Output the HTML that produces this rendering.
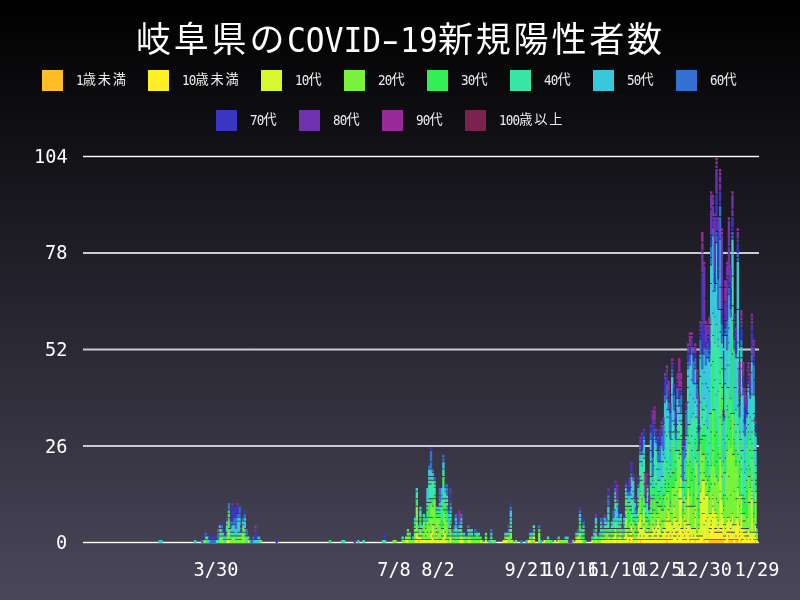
<!DOCTYPE html>
<html><head><meta charset="utf-8">
<style>
html,body{margin:0;padding:0;}
body{width:800px;height:600px;overflow:hidden;position:relative;
 background:linear-gradient(to bottom,#000000 0%,#4a475b 100%);
 font-family:"Noto Sans Mono CJK JP","DejaVu Sans Mono","Noto Sans CJK JP",monospace;color:#fff;}
.t{position:absolute;white-space:nowrap;will-change:transform;}
.ttl{line-height:50px;}
.tc{font-family:"Noto Sans CJK JP",sans-serif;font-size:35px;}
.tl{font-family:"DejaVu Sans Mono",monospace;font-size:31.3px;}
.hy{display:inline-block;transform:scaleX(1.6);}
.lg{position:absolute;line-height:21px;white-space:nowrap;color:#eeeeee;will-change:transform}
.lg i{position:absolute;left:0;top:0;width:20.7px;height:21px;}
.lg span{position:absolute;left:34px;top:-2px;font-family:"Noto Sans CJK JP",sans-serif;font-size:13.2px;letter-spacing:1.8px;}
.lg b{font-weight:normal;font-family:"DejaVu Sans Mono",monospace;font-size:12.6px;letter-spacing:-0.8px;display:inline-block;transform:scaleY(1.06);transform-origin:50% 85%;position:relative;top:1.2px;}
.yl{position:absolute;right:732.5px;font-family:"DejaVu Sans Mono",monospace;font-size:18.6px;line-height:24px;text-align:right;transform:scaleY(1.07);will-change:transform;}
.xl{position:absolute;top:557.5px;font-family:"DejaVu Sans Mono",monospace;font-size:18.6px;line-height:24px;width:80px;text-align:center;transform:scaleY(1.07);will-change:transform;}
</style></head><body>
<div class="t ttl" style="left:136px;top:11.5px"><span class="tc" style="letter-spacing:2.8px">岐阜県の</span></div>
<div class="t ttl" style="left:287.3px;top:13px;transform:scaleY(1.08);transform-origin:0 0"><span class="tl">COVID<span class="hy">-</span>19</span></div>
<div class="t ttl" style="left:438.2px;top:11.5px"><span class="tc" style="letter-spacing:2.8px">新規陽性者数</span></div>

<div class="lg" style="left:41.7px;top:70px"><i style="background:#ffbe25"></i><span><b>1</b>歳未満</span></div>
<div class="lg" style="left:147.5px;top:70px"><i style="background:#fff025"></i><span><b>10</b>歳未満</span></div>
<div class="lg" style="left:260.5px;top:70px"><i style="background:#d8f72c"></i><span><b>10</b>代</span></div>
<div class="lg" style="left:343.7px;top:70px"><i style="background:#78f23a"></i><span><b>20</b>代</span></div>
<div class="lg" style="left:426.8px;top:70px"><i style="background:#33ee55"></i><span><b>30</b>代</span></div>
<div class="lg" style="left:509.6px;top:70px"><i style="background:#3ae6a6"></i><span><b>40</b>代</span></div>
<div class="lg" style="left:592.7px;top:70px"><i style="background:#38c8dc"></i><span><b>50</b>代</span></div>
<div class="lg" style="left:675.7px;top:70px"><i style="background:#3372d2"></i><span><b>60</b>代</span></div>
<div class="lg" style="left:215.7px;top:110px"><i style="background:#3a35c2"></i><span><b>70</b>代</span></div>
<div class="lg" style="left:298.7px;top:110px"><i style="background:#6f31ad"></i><span><b>80</b>代</span></div>
<div class="lg" style="left:381.7px;top:110px"><i style="background:#982b98"></i><span><b>90</b>代</span></div>
<div class="lg" style="left:465px;top:110px"><i style="background:#7a2350"></i><span><b>100</b>歳以上</span></div>

<svg style="position:absolute;left:0;top:0" width="800" height="600">
<g>
<rect x="83" y="155.8" width="676" height="1.4" fill="#fff"/>
<rect x="83" y="252" width="676" height="2" fill="#cccbd0"/>
<rect x="83" y="348.5" width="676" height="2" fill="#cccbd0"/>
<rect x="83" y="445" width="676" height="2" fill="#cccbd0"/>
<rect x="83" y="541.8" width="676" height="1.4" fill="#fff"/>
</g>
<g id="bars">
<path fill="#ffbe25" d="M417.42 540.09h2.37v2.81h-2.37zM532.68 540.09h2.37v2.81h-2.37zM628.44 540.09h2.37v2.81h-2.37zM631.99 540.09h2.37v2.81h-2.37zM639.08 540.09h2.37v2.81h-2.37zM665.68 540.09h2.37v2.81h-2.37zM688.74 540.09h2.37v2.81h-2.37zM694.06 540.09h2.37v2.81h-2.37zM702.92 540.09h2.37v2.81h-2.37zM708.24 540.09h2.37v2.81h-2.37zM710.01 540.09h2.37v2.81h-2.37zM711.79 540.09h2.37v2.81h-2.37zM713.56 540.09h2.37v2.81h-2.37zM715.33 540.09h2.37v2.81h-2.37zM717.11 540.09h2.37v2.81h-2.37zM718.88 540.09h2.37v2.81h-2.37zM720.65 540.09h2.37v2.81h-2.37zM722.43 540.09h2.37v2.81h-2.37zM727.75 540.09h2.37v2.81h-2.37zM729.52 540.09h2.37v2.81h-2.37zM731.29 540.09h2.37v2.81h-2.37zM734.84 540.09h2.37v2.81h-2.37zM736.61 540.09h2.37v2.81h-2.37zM740.16 540.09h2.37v2.81h-2.37zM754.35 540.09h2.37v2.81h-2.37z"/>
<path fill="#fff025" d="M225.90 540.09h2.37v2.81h-2.37zM227.68 540.09h2.37v2.81h-2.37zM247.18 540.09h2.37v2.81h-2.37zM405.01 540.09h2.37v2.81h-2.37zM422.74 540.09h2.37v2.81h-2.37zM429.83 540.09h2.37v2.81h-2.37zM435.15 540.09h2.37v2.81h-2.37zM461.75 540.09h2.37v2.81h-2.37zM504.31 540.09h2.37v2.81h-2.37zM506.09 540.09h2.37v2.81h-2.37zM532.68 536.38h2.37v2.81h-2.37zM577.02 540.09h2.37v2.81h-2.37zM601.84 540.09h2.37v2.81h-2.37zM607.16 540.09h2.37v2.81h-2.37zM612.48 540.09h2.37v2.81h-2.37zM614.26 540.09h2.37v2.81h-2.37zM619.58 540.09h2.37v2.81h-2.37zM624.90 540.09h2.37v2.81h-2.37zM624.90 532.66h2.37v6.52h-2.37zM628.44 536.38h2.37v2.81h-2.37zM630.22 536.38h2.37v6.52h-2.37zM637.31 540.09h2.37v2.81h-2.37zM639.08 536.38h2.37v2.81h-2.37zM640.86 540.09h2.37v2.81h-2.37zM642.63 540.09h2.37v2.81h-2.37zM642.63 536.38h2.37v2.81h-2.37zM644.40 540.09h2.37v2.81h-2.37zM646.18 540.09h2.37v2.81h-2.37zM647.95 540.09h2.37v2.81h-2.37zM649.72 540.09h2.37v2.81h-2.37zM651.50 540.09h2.37v2.81h-2.37zM653.27 540.09h2.37v2.81h-2.37zM655.04 540.09h2.37v2.81h-2.37zM655.04 536.38h2.37v2.81h-2.37zM656.82 540.09h2.37v2.81h-2.37zM658.59 540.09h2.37v2.81h-2.37zM660.36 540.09h2.37v2.81h-2.37zM662.14 540.09h2.37v2.81h-2.37zM663.91 540.09h2.37v2.81h-2.37zM665.68 536.38h2.37v2.81h-2.37zM665.68 532.66h2.37v2.81h-2.37zM667.46 540.09h2.37v2.81h-2.37zM667.46 532.66h2.37v6.52h-2.37zM669.23 540.09h2.37v2.81h-2.37zM669.23 536.38h2.37v2.81h-2.37zM671.00 540.09h2.37v2.81h-2.37zM672.78 536.38h2.37v6.52h-2.37zM672.78 528.95h2.37v6.52h-2.37zM674.55 536.38h2.37v6.52h-2.37zM674.55 532.66h2.37v2.81h-2.37zM676.32 540.09h2.37v2.81h-2.37zM678.10 536.38h2.37v6.52h-2.37zM678.10 525.24h2.37v10.24h-2.37zM679.87 528.95h2.37v13.95h-2.37zM679.87 499.26h2.37v28.80h-2.37zM681.64 540.09h2.37v2.81h-2.37zM683.42 540.09h2.37v2.81h-2.37zM683.42 536.38h2.37v2.81h-2.37zM685.19 540.09h2.37v2.81h-2.37zM685.19 528.95h2.37v10.24h-2.37zM686.96 532.66h2.37v10.24h-2.37zM686.96 525.24h2.37v6.52h-2.37zM688.74 536.38h2.37v2.81h-2.37zM690.51 540.09h2.37v2.81h-2.37zM692.28 540.09h2.37v2.81h-2.37zM694.06 528.95h2.37v10.24h-2.37zM694.06 517.82h2.37v10.24h-2.37zM695.83 540.09h2.37v2.81h-2.37zM697.60 540.09h2.37v2.81h-2.37zM699.38 536.38h2.37v6.52h-2.37zM701.15 536.38h2.37v6.52h-2.37zM702.92 525.24h2.37v13.95h-2.37zM702.92 514.10h2.37v10.24h-2.37zM704.70 540.09h2.37v2.81h-2.37zM706.47 540.09h2.37v2.81h-2.37zM708.24 532.66h2.37v6.52h-2.37zM710.01 528.95h2.37v10.24h-2.37zM710.01 525.24h2.37v2.81h-2.37zM711.79 517.82h2.37v21.37h-2.37zM711.79 506.68h2.37v10.24h-2.37zM713.56 532.66h2.37v6.52h-2.37zM713.56 528.95h2.37v2.81h-2.37zM715.33 532.66h2.37v6.52h-2.37zM715.33 528.95h2.37v2.81h-2.37zM717.11 532.66h2.37v6.52h-2.37zM718.88 532.66h2.37v6.52h-2.37zM718.88 528.95h2.37v2.81h-2.37zM720.65 532.66h2.37v6.52h-2.37zM720.65 528.95h2.37v2.81h-2.37zM722.43 536.38h2.37v2.81h-2.37zM722.43 525.24h2.37v10.24h-2.37zM724.20 540.09h2.37v2.81h-2.37zM724.20 536.38h2.37v2.81h-2.37zM725.97 532.66h2.37v10.24h-2.37zM727.75 536.38h2.37v2.81h-2.37zM727.75 532.66h2.37v2.81h-2.37zM729.52 532.66h2.37v6.52h-2.37zM731.29 532.66h2.37v6.52h-2.37zM733.07 540.09h2.37v2.81h-2.37zM734.84 536.38h2.37v2.81h-2.37zM734.84 525.24h2.37v10.24h-2.37zM736.61 517.82h2.37v21.37h-2.37zM738.39 536.38h2.37v6.52h-2.37zM738.39 532.66h2.37v2.81h-2.37zM740.16 528.95h2.37v10.24h-2.37zM740.16 514.10h2.37v13.95h-2.37zM741.93 540.09h2.37v2.81h-2.37zM743.71 536.38h2.37v6.52h-2.37zM745.48 540.09h2.37v2.81h-2.37zM747.25 536.38h2.37v6.52h-2.37zM749.03 540.09h2.37v2.81h-2.37zM750.80 532.66h2.37v10.24h-2.37zM750.80 499.26h2.37v32.51h-2.37zM752.57 540.09h2.37v2.81h-2.37zM754.35 536.38h2.37v2.81h-2.37zM756.12 540.09h1.77v2.81h-1.77z"/>
<path fill="#d8f72c" d="M406.78 540.09h2.37v2.81h-2.37zM413.87 540.09h2.37v2.81h-2.37zM415.65 540.09h2.37v2.81h-2.37zM415.65 532.66h2.37v6.52h-2.37zM417.42 536.38h2.37v2.81h-2.37zM419.19 540.09h2.37v2.81h-2.37zM419.19 536.38h2.37v2.81h-2.37zM420.97 540.09h2.37v2.81h-2.37zM424.51 540.09h2.37v2.81h-2.37zM426.29 540.09h2.37v2.81h-2.37zM428.06 540.09h2.37v2.81h-2.37zM429.83 532.66h2.37v6.52h-2.37zM431.61 536.38h2.37v6.52h-2.37zM431.61 525.24h2.37v10.24h-2.37zM433.38 540.09h2.37v2.81h-2.37zM435.15 536.38h2.37v2.81h-2.37zM435.15 532.66h2.37v2.81h-2.37zM436.93 540.09h2.37v2.81h-2.37zM438.70 540.09h2.37v2.81h-2.37zM440.47 540.09h2.37v2.81h-2.37zM442.25 536.38h2.37v6.52h-2.37zM442.25 528.95h2.37v6.52h-2.37zM444.02 540.09h2.37v2.81h-2.37zM444.02 532.66h2.37v6.52h-2.37zM445.79 540.09h2.37v2.81h-2.37zM449.34 536.38h2.37v6.52h-2.37zM458.21 540.09h2.37v2.81h-2.37zM459.98 540.09h2.37v2.81h-2.37zM459.98 536.38h2.37v2.81h-2.37zM467.07 540.09h2.37v2.81h-2.37zM468.85 540.09h2.37v2.81h-2.37zM479.49 540.09h2.37v2.81h-2.37zM484.81 540.09h2.37v2.81h-2.37zM502.54 540.09h2.37v2.81h-2.37zM509.63 540.09h2.37v2.81h-2.37zM527.37 540.09h2.37v2.81h-2.37zM529.14 540.09h2.37v2.81h-2.37zM543.32 540.09h2.37v2.81h-2.37zM553.96 540.09h2.37v2.81h-2.37zM557.51 540.09h2.37v2.81h-2.37zM575.24 540.09h2.37v2.81h-2.37zM577.02 536.38h2.37v2.81h-2.37zM578.79 540.09h2.37v2.81h-2.37zM580.56 540.09h2.37v2.81h-2.37zM591.20 540.09h2.37v2.81h-2.37zM594.75 540.09h2.37v2.81h-2.37zM600.07 540.09h2.37v2.81h-2.37zM603.62 540.09h2.37v2.81h-2.37zM605.39 540.09h2.37v2.81h-2.37zM607.16 536.38h2.37v2.81h-2.37zM608.94 540.09h2.37v2.81h-2.37zM610.71 540.09h2.37v2.81h-2.37zM612.48 536.38h2.37v2.81h-2.37zM614.26 532.66h2.37v6.52h-2.37zM614.26 528.95h2.37v2.81h-2.37zM616.03 540.09h2.37v2.81h-2.37zM617.80 540.09h2.37v2.81h-2.37zM617.80 536.38h2.37v2.81h-2.37zM619.58 536.38h2.37v2.81h-2.37zM619.58 532.66h2.37v2.81h-2.37zM621.35 540.09h2.37v2.81h-2.37zM623.12 540.09h2.37v2.81h-2.37zM623.12 536.38h2.37v2.81h-2.37zM624.90 528.95h2.37v2.81h-2.37zM624.90 517.82h2.37v10.24h-2.37zM626.67 536.38h2.37v6.52h-2.37zM628.44 532.66h2.37v2.81h-2.37zM630.22 532.66h2.37v2.81h-2.37zM630.22 525.24h2.37v6.52h-2.37zM631.99 536.38h2.37v2.81h-2.37zM633.76 540.09h2.37v2.81h-2.37zM635.54 540.09h2.37v2.81h-2.37zM635.54 536.38h2.37v2.81h-2.37zM637.31 532.66h2.37v6.52h-2.37zM637.31 521.53h2.37v10.24h-2.37zM639.08 528.95h2.37v6.52h-2.37zM639.08 514.10h2.37v13.95h-2.37zM640.86 528.95h2.37v10.24h-2.37zM642.63 525.24h2.37v10.24h-2.37zM642.63 506.68h2.37v17.66h-2.37zM644.40 532.66h2.37v6.52h-2.37zM646.18 532.66h2.37v6.52h-2.37zM646.18 528.95h2.37v2.81h-2.37zM647.95 536.38h2.37v2.81h-2.37zM647.95 532.66h2.37v2.81h-2.37zM649.72 536.38h2.37v2.81h-2.37zM649.72 532.66h2.37v2.81h-2.37zM651.50 532.66h2.37v6.52h-2.37zM651.50 525.24h2.37v6.52h-2.37zM653.27 536.38h2.37v2.81h-2.37zM653.27 528.95h2.37v6.52h-2.37zM655.04 532.66h2.37v2.81h-2.37zM655.04 525.24h2.37v6.52h-2.37zM656.82 528.95h2.37v10.24h-2.37zM656.82 517.82h2.37v10.24h-2.37zM658.59 536.38h2.37v2.81h-2.37zM658.59 525.24h2.37v10.24h-2.37zM660.36 536.38h2.37v2.81h-2.37zM660.36 532.66h2.37v2.81h-2.37zM662.14 532.66h2.37v6.52h-2.37zM662.14 528.95h2.37v2.81h-2.37zM663.91 528.95h2.37v10.24h-2.37zM663.91 521.53h2.37v6.52h-2.37zM665.68 521.53h2.37v10.24h-2.37zM665.68 517.82h2.37v2.81h-2.37zM667.46 521.53h2.37v10.24h-2.37zM667.46 510.39h2.37v10.24h-2.37zM669.23 521.53h2.37v13.95h-2.37zM671.00 532.66h2.37v6.52h-2.37zM671.00 525.24h2.37v6.52h-2.37zM672.78 517.82h2.37v10.24h-2.37zM672.78 506.68h2.37v10.24h-2.37zM674.55 521.53h2.37v10.24h-2.37zM674.55 517.82h2.37v2.81h-2.37zM676.32 532.66h2.37v6.52h-2.37zM676.32 521.53h2.37v10.24h-2.37zM678.10 499.26h2.37v25.08h-2.37zM678.10 488.12h2.37v10.24h-2.37zM679.87 488.12h2.37v10.24h-2.37zM679.87 476.98h2.37v10.24h-2.37zM681.64 532.66h2.37v6.52h-2.37zM681.64 528.95h2.37v2.81h-2.37zM683.42 521.53h2.37v13.95h-2.37zM683.42 514.10h2.37v6.52h-2.37zM685.19 525.24h2.37v2.81h-2.37zM685.19 521.53h2.37v2.81h-2.37zM686.96 506.68h2.37v17.66h-2.37zM686.96 488.12h2.37v17.66h-2.37zM688.74 525.24h2.37v10.24h-2.37zM690.51 528.95h2.37v10.24h-2.37zM692.28 536.38h2.37v2.81h-2.37zM692.28 528.95h2.37v6.52h-2.37zM694.06 510.39h2.37v6.52h-2.37zM694.06 506.68h2.37v2.81h-2.37zM695.83 536.38h2.37v2.81h-2.37zM695.83 532.66h2.37v2.81h-2.37zM697.60 536.38h2.37v2.81h-2.37zM697.60 528.95h2.37v6.52h-2.37zM699.38 502.97h2.37v32.51h-2.37zM699.38 491.83h2.37v10.24h-2.37zM701.15 514.10h2.37v21.37h-2.37zM701.15 480.70h2.37v32.51h-2.37zM702.92 499.26h2.37v13.95h-2.37zM702.92 480.70h2.37v17.66h-2.37zM704.70 521.53h2.37v17.66h-2.37zM704.70 495.54h2.37v25.08h-2.37zM706.47 517.82h2.37v21.37h-2.37zM706.47 495.54h2.37v21.37h-2.37zM708.24 528.95h2.37v2.81h-2.37zM708.24 514.10h2.37v13.95h-2.37zM710.01 521.53h2.37v2.81h-2.37zM710.01 514.10h2.37v6.52h-2.37zM711.79 499.26h2.37v6.52h-2.37zM711.79 495.54h2.37v2.81h-2.37zM713.56 514.10h2.37v13.95h-2.37zM713.56 510.39h2.37v2.81h-2.37zM715.33 517.82h2.37v10.24h-2.37zM715.33 514.10h2.37v2.81h-2.37zM717.11 525.24h2.37v6.52h-2.37zM717.11 521.53h2.37v2.81h-2.37zM718.88 491.83h2.37v36.22h-2.37zM718.88 458.42h2.37v32.51h-2.37zM720.65 514.10h2.37v13.95h-2.37zM720.65 499.26h2.37v13.95h-2.37zM722.43 517.82h2.37v6.52h-2.37zM724.20 528.95h2.37v6.52h-2.37zM724.20 525.24h2.37v2.81h-2.37zM725.97 521.53h2.37v10.24h-2.37zM725.97 517.82h2.37v2.81h-2.37zM727.75 517.82h2.37v13.95h-2.37zM729.52 528.95h2.37v2.81h-2.37zM729.52 521.53h2.37v6.52h-2.37zM731.29 525.24h2.37v6.52h-2.37zM731.29 514.10h2.37v10.24h-2.37zM733.07 532.66h2.37v6.52h-2.37zM733.07 525.24h2.37v6.52h-2.37zM734.84 517.82h2.37v6.52h-2.37zM736.61 499.26h2.37v17.66h-2.37zM736.61 488.12h2.37v10.24h-2.37zM738.39 525.24h2.37v6.52h-2.37zM740.16 499.26h2.37v13.95h-2.37zM740.16 495.54h2.37v2.81h-2.37zM741.93 532.66h2.37v6.52h-2.37zM741.93 528.95h2.37v2.81h-2.37zM743.71 532.66h2.37v2.81h-2.37zM743.71 528.95h2.37v2.81h-2.37zM745.48 536.38h2.37v2.81h-2.37zM745.48 532.66h2.37v2.81h-2.37zM747.25 528.95h2.37v6.52h-2.37zM749.03 532.66h2.37v6.52h-2.37zM750.80 495.54h2.37v2.81h-2.37zM750.80 491.83h2.37v2.81h-2.37zM752.57 532.66h2.37v6.52h-2.37zM754.35 532.66h2.37v2.81h-2.37zM754.35 525.24h2.37v6.52h-2.37z"/>
<path fill="#78f23a" d="M202.85 540.09h2.37v2.81h-2.37zM204.62 540.09h2.37v2.81h-2.37zM218.81 536.38h2.37v6.52h-2.37zM218.81 532.66h2.37v2.81h-2.37zM220.58 536.38h2.37v6.52h-2.37zM222.36 540.09h2.37v2.81h-2.37zM225.90 536.38h2.37v2.81h-2.37zM225.90 532.66h2.37v2.81h-2.37zM227.68 528.95h2.37v10.24h-2.37zM227.68 517.82h2.37v10.24h-2.37zM229.45 540.09h2.37v2.81h-2.37zM231.22 536.38h2.37v6.52h-2.37zM233.00 536.38h2.37v6.52h-2.37zM234.77 540.09h2.37v2.81h-2.37zM236.54 540.09h2.37v2.81h-2.37zM236.54 536.38h2.37v2.81h-2.37zM238.32 540.09h2.37v2.81h-2.37zM238.32 536.38h2.37v2.81h-2.37zM240.09 540.09h2.37v2.81h-2.37zM240.09 536.38h2.37v2.81h-2.37zM241.86 532.66h2.37v10.24h-2.37zM241.86 525.24h2.37v6.52h-2.37zM243.64 536.38h2.37v6.52h-2.37zM243.64 532.66h2.37v2.81h-2.37zM259.60 540.09h2.37v2.81h-2.37zM392.59 540.09h2.37v2.81h-2.37zM394.37 540.09h2.37v2.81h-2.37zM401.46 540.09h2.37v2.81h-2.37zM403.23 540.09h2.37v2.81h-2.37zM405.01 536.38h2.37v2.81h-2.37zM406.78 536.38h2.37v2.81h-2.37zM406.78 532.66h2.37v2.81h-2.37zM408.55 540.09h2.37v2.81h-2.37zM408.55 536.38h2.37v2.81h-2.37zM410.33 540.09h2.37v2.81h-2.37zM412.10 540.09h2.37v2.81h-2.37zM413.87 532.66h2.37v6.52h-2.37zM413.87 528.95h2.37v2.81h-2.37zM415.65 521.53h2.37v10.24h-2.37zM415.65 506.68h2.37v13.95h-2.37zM417.42 532.66h2.37v2.81h-2.37zM419.19 528.95h2.37v6.52h-2.37zM420.97 536.38h2.37v2.81h-2.37zM420.97 532.66h2.37v2.81h-2.37zM422.74 532.66h2.37v6.52h-2.37zM422.74 521.53h2.37v10.24h-2.37zM424.51 536.38h2.37v2.81h-2.37zM424.51 528.95h2.37v6.52h-2.37zM426.29 532.66h2.37v6.52h-2.37zM426.29 521.53h2.37v10.24h-2.37zM428.06 525.24h2.37v13.95h-2.37zM428.06 517.82h2.37v6.52h-2.37zM429.83 517.82h2.37v13.95h-2.37zM429.83 502.97h2.37v13.95h-2.37zM431.61 517.82h2.37v6.52h-2.37zM431.61 506.68h2.37v10.24h-2.37zM433.38 525.24h2.37v13.95h-2.37zM433.38 499.26h2.37v25.08h-2.37zM435.15 528.95h2.37v2.81h-2.37zM435.15 517.82h2.37v10.24h-2.37zM436.93 532.66h2.37v6.52h-2.37zM436.93 517.82h2.37v13.95h-2.37zM438.70 525.24h2.37v13.95h-2.37zM438.70 517.82h2.37v6.52h-2.37zM440.47 536.38h2.37v2.81h-2.37zM440.47 528.95h2.37v6.52h-2.37zM442.25 525.24h2.37v2.81h-2.37zM442.25 510.39h2.37v13.95h-2.37zM444.02 517.82h2.37v13.95h-2.37zM444.02 514.10h2.37v2.81h-2.37zM445.79 536.38h2.37v2.81h-2.37zM445.79 521.53h2.37v13.95h-2.37zM447.57 540.09h2.37v2.81h-2.37zM447.57 536.38h2.37v2.81h-2.37zM449.34 528.95h2.37v6.52h-2.37zM449.34 525.24h2.37v2.81h-2.37zM451.11 540.09h2.37v2.81h-2.37zM452.89 540.09h2.37v2.81h-2.37zM454.66 540.09h2.37v2.81h-2.37zM454.66 536.38h2.37v2.81h-2.37zM456.43 540.09h2.37v2.81h-2.37zM458.21 536.38h2.37v2.81h-2.37zM459.98 532.66h2.37v2.81h-2.37zM461.75 536.38h2.37v2.81h-2.37zM463.53 540.09h2.37v2.81h-2.37zM463.53 536.38h2.37v2.81h-2.37zM465.30 540.09h2.37v2.81h-2.37zM467.07 536.38h2.37v2.81h-2.37zM468.85 536.38h2.37v2.81h-2.37zM470.62 540.09h2.37v2.81h-2.37zM472.39 540.09h2.37v2.81h-2.37zM474.17 540.09h2.37v2.81h-2.37zM475.94 540.09h2.37v2.81h-2.37zM477.71 540.09h2.37v2.81h-2.37zM481.26 540.09h2.37v2.81h-2.37zM484.81 536.38h2.37v2.81h-2.37zM490.13 540.09h2.37v2.81h-2.37zM491.90 540.09h2.37v2.81h-2.37zM504.31 536.38h2.37v2.81h-2.37zM506.09 536.38h2.37v2.81h-2.37zM507.86 536.38h2.37v6.52h-2.37zM509.63 532.66h2.37v6.52h-2.37zM509.63 528.95h2.37v2.81h-2.37zM511.41 540.09h2.37v2.81h-2.37zM514.95 540.09h2.37v2.81h-2.37zM529.14 536.38h2.37v2.81h-2.37zM530.91 540.09h2.37v2.81h-2.37zM532.68 532.66h2.37v2.81h-2.37zM538.00 532.66h2.37v10.24h-2.37zM545.10 540.09h2.37v2.81h-2.37zM546.87 540.09h2.37v2.81h-2.37zM548.64 540.09h2.37v2.81h-2.37zM559.28 540.09h2.37v2.81h-2.37zM561.06 540.09h2.37v2.81h-2.37zM562.83 540.09h2.37v2.81h-2.37zM564.60 540.09h2.37v2.81h-2.37zM566.38 540.09h2.37v2.81h-2.37zM571.70 540.09h2.37v2.81h-2.37zM575.24 536.38h2.37v2.81h-2.37zM577.02 532.66h2.37v2.81h-2.37zM578.79 532.66h2.37v6.52h-2.37zM582.34 540.09h2.37v2.81h-2.37zM592.98 540.09h2.37v2.81h-2.37zM594.75 532.66h2.37v6.52h-2.37zM596.52 540.09h2.37v2.81h-2.37zM598.30 540.09h2.37v2.81h-2.37zM600.07 536.38h2.37v2.81h-2.37zM601.84 536.38h2.37v2.81h-2.37zM603.62 536.38h2.37v2.81h-2.37zM603.62 532.66h2.37v2.81h-2.37zM605.39 532.66h2.37v6.52h-2.37zM607.16 532.66h2.37v2.81h-2.37zM608.94 536.38h2.37v2.81h-2.37zM610.71 536.38h2.37v2.81h-2.37zM610.71 532.66h2.37v2.81h-2.37zM612.48 532.66h2.37v2.81h-2.37zM614.26 521.53h2.37v6.52h-2.37zM616.03 536.38h2.37v2.81h-2.37zM616.03 532.66h2.37v2.81h-2.37zM617.80 532.66h2.37v2.81h-2.37zM619.58 528.95h2.37v2.81h-2.37zM623.12 532.66h2.37v2.81h-2.37zM624.90 510.39h2.37v6.52h-2.37zM626.67 532.66h2.37v2.81h-2.37zM626.67 528.95h2.37v2.81h-2.37zM628.44 528.95h2.37v2.81h-2.37zM628.44 521.53h2.37v6.52h-2.37zM630.22 514.10h2.37v10.24h-2.37zM631.99 528.95h2.37v6.52h-2.37zM631.99 521.53h2.37v6.52h-2.37zM633.76 532.66h2.37v6.52h-2.37zM633.76 525.24h2.37v6.52h-2.37zM635.54 532.66h2.37v2.81h-2.37zM637.31 517.82h2.37v2.81h-2.37zM637.31 506.68h2.37v10.24h-2.37zM639.08 495.54h2.37v17.66h-2.37zM639.08 491.83h2.37v2.81h-2.37zM640.86 521.53h2.37v6.52h-2.37zM640.86 514.10h2.37v6.52h-2.37zM642.63 495.54h2.37v10.24h-2.37zM644.40 521.53h2.37v10.24h-2.37zM644.40 517.82h2.37v2.81h-2.37zM646.18 521.53h2.37v6.52h-2.37zM647.95 528.95h2.37v2.81h-2.37zM647.95 525.24h2.37v2.81h-2.37zM649.72 514.10h2.37v17.66h-2.37zM649.72 499.26h2.37v13.95h-2.37zM651.50 517.82h2.37v6.52h-2.37zM651.50 514.10h2.37v2.81h-2.37zM653.27 510.39h2.37v17.66h-2.37zM653.27 499.26h2.37v10.24h-2.37zM655.04 521.53h2.37v2.81h-2.37zM655.04 514.10h2.37v6.52h-2.37zM656.82 514.10h2.37v2.81h-2.37zM656.82 506.68h2.37v6.52h-2.37zM658.59 506.68h2.37v17.66h-2.37zM658.59 499.26h2.37v6.52h-2.37zM660.36 521.53h2.37v10.24h-2.37zM660.36 510.39h2.37v10.24h-2.37zM662.14 521.53h2.37v6.52h-2.37zM662.14 510.39h2.37v10.24h-2.37zM663.91 506.68h2.37v13.95h-2.37zM663.91 495.54h2.37v10.24h-2.37zM665.68 499.26h2.37v17.66h-2.37zM665.68 491.83h2.37v6.52h-2.37zM667.46 491.83h2.37v17.66h-2.37zM667.46 488.12h2.37v2.81h-2.37zM669.23 514.10h2.37v6.52h-2.37zM669.23 506.68h2.37v6.52h-2.37zM671.00 514.10h2.37v10.24h-2.37zM671.00 488.12h2.37v25.08h-2.37zM672.78 495.54h2.37v10.24h-2.37zM672.78 488.12h2.37v6.52h-2.37zM674.55 495.54h2.37v21.37h-2.37zM674.55 480.70h2.37v13.95h-2.37zM676.32 491.83h2.37v28.80h-2.37zM676.32 451.00h2.37v39.93h-2.37zM678.10 458.42h2.37v28.80h-2.37zM678.10 454.71h2.37v2.81h-2.37zM679.87 465.85h2.37v10.24h-2.37zM679.87 454.71h2.37v10.24h-2.37zM681.64 517.82h2.37v10.24h-2.37zM683.42 502.97h2.37v10.24h-2.37zM683.42 495.54h2.37v6.52h-2.37zM685.19 506.68h2.37v13.95h-2.37zM685.19 499.26h2.37v6.52h-2.37zM686.96 465.85h2.37v21.37h-2.37zM686.96 443.58h2.37v21.37h-2.37zM688.74 506.68h2.37v17.66h-2.37zM688.74 495.54h2.37v10.24h-2.37zM690.51 506.68h2.37v21.37h-2.37zM690.51 480.70h2.37v25.08h-2.37zM692.28 514.10h2.37v13.95h-2.37zM692.28 506.68h2.37v6.52h-2.37zM694.06 476.98h2.37v28.80h-2.37zM694.06 458.42h2.37v17.66h-2.37zM695.83 499.26h2.37v32.51h-2.37zM695.83 462.14h2.37v36.22h-2.37zM697.60 525.24h2.37v2.81h-2.37zM697.60 517.82h2.37v6.52h-2.37zM699.38 473.27h2.37v17.66h-2.37zM699.38 443.58h2.37v28.80h-2.37zM701.15 462.14h2.37v17.66h-2.37zM701.15 454.71h2.37v6.52h-2.37zM702.92 473.27h2.37v6.52h-2.37zM702.92 454.71h2.37v17.66h-2.37zM704.70 484.41h2.37v10.24h-2.37zM704.70 476.98h2.37v6.52h-2.37zM706.47 491.83h2.37v2.81h-2.37zM706.47 480.70h2.37v10.24h-2.37zM708.24 499.26h2.37v13.95h-2.37zM708.24 491.83h2.37v6.52h-2.37zM710.01 484.41h2.37v28.80h-2.37zM710.01 465.85h2.37v17.66h-2.37zM711.79 451.00h2.37v43.64h-2.37zM711.79 410.17h2.37v39.93h-2.37zM713.56 484.41h2.37v25.08h-2.37zM713.56 465.85h2.37v17.66h-2.37zM715.33 499.26h2.37v13.95h-2.37zM715.33 476.98h2.37v21.37h-2.37zM717.11 502.97h2.37v17.66h-2.37zM717.11 480.70h2.37v21.37h-2.37zM718.88 417.59h2.37v39.93h-2.37zM718.88 384.18h2.37v32.51h-2.37zM720.65 476.98h2.37v21.37h-2.37zM720.65 465.85h2.37v10.24h-2.37zM722.43 510.39h2.37v6.52h-2.37zM722.43 506.68h2.37v2.81h-2.37zM724.20 495.54h2.37v28.80h-2.37zM724.20 473.27h2.37v21.37h-2.37zM725.97 499.26h2.37v17.66h-2.37zM725.97 451.00h2.37v47.36h-2.37zM727.75 476.98h2.37v39.93h-2.37zM727.75 439.86h2.37v36.22h-2.37zM729.52 495.54h2.37v25.08h-2.37zM729.52 447.29h2.37v47.36h-2.37zM731.29 454.71h2.37v58.49h-2.37zM731.29 413.88h2.37v39.93h-2.37zM733.07 491.83h2.37v32.51h-2.37zM733.07 454.71h2.37v36.22h-2.37zM734.84 499.26h2.37v17.66h-2.37zM734.84 465.85h2.37v32.51h-2.37zM736.61 454.71h2.37v32.51h-2.37zM736.61 425.02h2.37v28.80h-2.37zM738.39 506.68h2.37v17.66h-2.37zM738.39 495.54h2.37v10.24h-2.37zM740.16 469.56h2.37v25.08h-2.37zM740.16 458.42h2.37v10.24h-2.37zM741.93 521.53h2.37v6.52h-2.37zM741.93 514.10h2.37v6.52h-2.37zM743.71 521.53h2.37v6.52h-2.37zM743.71 514.10h2.37v6.52h-2.37zM745.48 528.95h2.37v2.81h-2.37zM745.48 517.82h2.37v10.24h-2.37zM747.25 502.97h2.37v25.08h-2.37zM747.25 476.98h2.37v25.08h-2.37zM749.03 502.97h2.37v28.80h-2.37zM749.03 488.12h2.37v13.95h-2.37zM750.80 480.70h2.37v10.24h-2.37zM750.80 458.42h2.37v21.37h-2.37zM752.57 521.53h2.37v10.24h-2.37zM752.57 517.82h2.37v2.81h-2.37zM754.35 502.97h2.37v21.37h-2.37zM754.35 491.83h2.37v10.24h-2.37zM756.12 532.66h1.77v6.52h-1.77z"/>
<path fill="#33ee55" d="M206.40 540.09h2.37v2.81h-2.37zM227.68 514.10h2.37v2.81h-2.37zM328.76 540.09h2.37v2.81h-2.37zM406.78 528.95h2.37v2.81h-2.37zM413.87 525.24h2.37v2.81h-2.37zM415.65 499.26h2.37v6.52h-2.37zM419.19 521.53h2.37v6.52h-2.37zM419.19 517.82h2.37v2.81h-2.37zM420.97 528.95h2.37v2.81h-2.37zM422.74 517.82h2.37v2.81h-2.37zM424.51 525.24h2.37v2.81h-2.37zM426.29 517.82h2.37v2.81h-2.37zM426.29 510.39h2.37v6.52h-2.37zM428.06 502.97h2.37v13.95h-2.37zM428.06 499.26h2.37v2.81h-2.37zM429.83 499.26h2.37v2.81h-2.37zM431.61 499.26h2.37v6.52h-2.37zM433.38 495.54h2.37v2.81h-2.37zM435.15 514.10h2.37v2.81h-2.37zM436.93 514.10h2.37v2.81h-2.37zM438.70 514.10h2.37v2.81h-2.37zM438.70 510.39h2.37v2.81h-2.37zM440.47 521.53h2.37v6.52h-2.37zM442.25 499.26h2.37v10.24h-2.37zM442.25 476.98h2.37v21.37h-2.37zM444.02 510.39h2.37v2.81h-2.37zM444.02 502.97h2.37v6.52h-2.37zM445.79 510.39h2.37v10.24h-2.37zM445.79 506.68h2.37v2.81h-2.37zM447.57 532.66h2.37v2.81h-2.37zM449.34 521.53h2.37v2.81h-2.37zM452.89 536.38h2.37v2.81h-2.37zM454.66 532.66h2.37v2.81h-2.37zM458.21 532.66h2.37v2.81h-2.37zM459.98 528.95h2.37v2.81h-2.37zM468.85 532.66h2.37v2.81h-2.37zM470.62 536.38h2.37v2.81h-2.37zM472.39 536.38h2.37v2.81h-2.37zM474.17 536.38h2.37v2.81h-2.37zM475.94 532.66h2.37v6.52h-2.37zM477.71 536.38h2.37v2.81h-2.37zM479.49 536.38h2.37v2.81h-2.37zM484.81 532.66h2.37v2.81h-2.37zM509.63 525.24h2.37v2.81h-2.37zM532.68 528.95h2.37v2.81h-2.37zM538.00 528.95h2.37v2.81h-2.37zM578.79 525.24h2.37v6.52h-2.37zM578.79 521.53h2.37v2.81h-2.37zM580.56 536.38h2.37v2.81h-2.37zM582.34 536.38h2.37v2.81h-2.37zM582.34 532.66h2.37v2.81h-2.37zM584.11 540.09h2.37v2.81h-2.37zM594.75 528.95h2.37v2.81h-2.37zM596.52 536.38h2.37v2.81h-2.37zM600.07 532.66h2.37v2.81h-2.37zM603.62 528.95h2.37v2.81h-2.37zM605.39 528.95h2.37v2.81h-2.37zM607.16 528.95h2.37v2.81h-2.37zM608.94 532.66h2.37v2.81h-2.37zM610.71 528.95h2.37v2.81h-2.37zM612.48 528.95h2.37v2.81h-2.37zM614.26 510.39h2.37v10.24h-2.37zM616.03 528.95h2.37v2.81h-2.37zM617.80 528.95h2.37v2.81h-2.37zM619.58 525.24h2.37v2.81h-2.37zM621.35 536.38h2.37v2.81h-2.37zM623.12 528.95h2.37v2.81h-2.37zM623.12 525.24h2.37v2.81h-2.37zM624.90 506.68h2.37v2.81h-2.37zM624.90 499.26h2.37v6.52h-2.37zM626.67 514.10h2.37v13.95h-2.37zM626.67 506.68h2.37v6.52h-2.37zM628.44 510.39h2.37v10.24h-2.37zM628.44 506.68h2.37v2.81h-2.37zM630.22 510.39h2.37v2.81h-2.37zM630.22 506.68h2.37v2.81h-2.37zM631.99 517.82h2.37v2.81h-2.37zM633.76 521.53h2.37v2.81h-2.37zM635.54 528.95h2.37v2.81h-2.37zM635.54 525.24h2.37v2.81h-2.37zM637.31 502.97h2.37v2.81h-2.37zM639.08 480.70h2.37v10.24h-2.37zM640.86 510.39h2.37v2.81h-2.37zM640.86 499.26h2.37v10.24h-2.37zM642.63 484.41h2.37v10.24h-2.37zM642.63 473.27h2.37v10.24h-2.37zM644.40 514.10h2.37v2.81h-2.37zM646.18 517.82h2.37v2.81h-2.37zM647.95 521.53h2.37v2.81h-2.37zM649.72 484.41h2.37v13.95h-2.37zM649.72 476.98h2.37v6.52h-2.37zM651.50 510.39h2.37v2.81h-2.37zM651.50 499.26h2.37v10.24h-2.37zM653.27 495.54h2.37v2.81h-2.37zM653.27 488.12h2.37v6.52h-2.37zM655.04 502.97h2.37v10.24h-2.37zM655.04 484.41h2.37v17.66h-2.37zM656.82 502.97h2.37v2.81h-2.37zM656.82 495.54h2.37v6.52h-2.37zM658.59 491.83h2.37v6.52h-2.37zM660.36 506.68h2.37v2.81h-2.37zM660.36 488.12h2.37v17.66h-2.37zM662.14 499.26h2.37v10.24h-2.37zM662.14 495.54h2.37v2.81h-2.37zM663.91 488.12h2.37v6.52h-2.37zM663.91 484.41h2.37v2.81h-2.37zM665.68 469.56h2.37v21.37h-2.37zM665.68 462.14h2.37v6.52h-2.37zM667.46 484.41h2.37v2.81h-2.37zM667.46 473.27h2.37v10.24h-2.37zM669.23 502.97h2.37v2.81h-2.37zM669.23 476.98h2.37v25.08h-2.37zM671.00 473.27h2.37v13.95h-2.37zM671.00 439.86h2.37v32.51h-2.37zM672.78 473.27h2.37v13.95h-2.37zM672.78 447.29h2.37v25.08h-2.37zM674.55 469.56h2.37v10.24h-2.37zM676.32 439.86h2.37v10.24h-2.37zM676.32 432.44h2.37v6.52h-2.37zM678.10 451.00h2.37v2.81h-2.37zM678.10 439.86h2.37v10.24h-2.37zM679.87 447.29h2.37v6.52h-2.37zM679.87 439.86h2.37v6.52h-2.37zM681.64 510.39h2.37v6.52h-2.37zM683.42 488.12h2.37v6.52h-2.37zM685.19 480.70h2.37v17.66h-2.37zM685.19 462.14h2.37v17.66h-2.37zM686.96 436.15h2.37v6.52h-2.37zM686.96 425.02h2.37v10.24h-2.37zM688.74 488.12h2.37v6.52h-2.37zM688.74 462.14h2.37v25.08h-2.37zM690.51 473.27h2.37v6.52h-2.37zM690.51 451.00h2.37v21.37h-2.37zM692.28 495.54h2.37v10.24h-2.37zM692.28 469.56h2.37v25.08h-2.37zM694.06 443.58h2.37v13.95h-2.37zM694.06 439.86h2.37v2.81h-2.37zM695.83 451.00h2.37v10.24h-2.37zM695.83 432.44h2.37v17.66h-2.37zM697.60 510.39h2.37v6.52h-2.37zM697.60 499.26h2.37v10.24h-2.37zM699.38 439.86h2.37v2.81h-2.37zM699.38 428.73h2.37v10.24h-2.37zM701.15 439.86h2.37v13.95h-2.37zM701.15 436.15h2.37v2.81h-2.37zM702.92 436.15h2.37v17.66h-2.37zM702.92 425.02h2.37v10.24h-2.37zM704.70 458.42h2.37v17.66h-2.37zM704.70 436.15h2.37v21.37h-2.37zM706.47 465.85h2.37v13.95h-2.37zM706.47 462.14h2.37v2.81h-2.37zM708.24 488.12h2.37v2.81h-2.37zM708.24 476.98h2.37v10.24h-2.37zM710.01 432.44h2.37v32.51h-2.37zM710.01 413.88h2.37v17.66h-2.37zM711.79 387.90h2.37v21.37h-2.37zM711.79 361.91h2.37v25.08h-2.37zM713.56 436.15h2.37v28.80h-2.37zM713.56 410.17h2.37v25.08h-2.37zM715.33 462.14h2.37v13.95h-2.37zM715.33 432.44h2.37v28.80h-2.37zM717.11 454.71h2.37v25.08h-2.37zM717.11 447.29h2.37v6.52h-2.37zM718.88 373.05h2.37v10.24h-2.37zM718.88 358.20h2.37v13.95h-2.37zM720.65 425.02h2.37v39.93h-2.37zM720.65 399.03h2.37v25.08h-2.37zM722.43 495.54h2.37v10.24h-2.37zM724.20 458.42h2.37v13.95h-2.37zM724.20 443.58h2.37v13.95h-2.37zM725.97 436.15h2.37v13.95h-2.37zM725.97 410.17h2.37v25.08h-2.37zM727.75 417.59h2.37v21.37h-2.37zM727.75 387.90h2.37v28.80h-2.37zM729.52 428.73h2.37v17.66h-2.37zM729.52 421.30h2.37v6.52h-2.37zM731.29 354.49h2.37v58.49h-2.37zM731.29 321.08h2.37v32.51h-2.37zM733.07 443.58h2.37v10.24h-2.37zM733.07 439.86h2.37v2.81h-2.37zM734.84 462.14h2.37v2.81h-2.37zM734.84 451.00h2.37v10.24h-2.37zM736.61 406.46h2.37v17.66h-2.37zM736.61 369.34h2.37v36.22h-2.37zM738.39 476.98h2.37v17.66h-2.37zM738.39 462.14h2.37v13.95h-2.37zM740.16 451.00h2.37v6.52h-2.37zM740.16 439.86h2.37v10.24h-2.37zM741.93 499.26h2.37v13.95h-2.37zM741.93 495.54h2.37v2.81h-2.37zM743.71 502.97h2.37v10.24h-2.37zM743.71 499.26h2.37v2.81h-2.37zM745.48 491.83h2.37v25.08h-2.37zM745.48 480.70h2.37v10.24h-2.37zM747.25 465.85h2.37v10.24h-2.37zM747.25 432.44h2.37v32.51h-2.37zM749.03 476.98h2.37v10.24h-2.37zM749.03 469.56h2.37v6.52h-2.37zM750.80 443.58h2.37v13.95h-2.37zM750.80 432.44h2.37v10.24h-2.37zM752.57 514.10h2.37v2.81h-2.37zM752.57 502.97h2.37v10.24h-2.37zM754.35 484.41h2.37v6.52h-2.37zM754.35 480.70h2.37v2.81h-2.37z"/>
<path fill="#3ae6a6" d="M204.62 536.38h2.37v2.81h-2.37zM206.40 536.38h2.37v2.81h-2.37zM215.26 540.09h2.37v2.81h-2.37zM217.04 540.09h2.37v2.81h-2.37zM218.81 528.95h2.37v2.81h-2.37zM220.58 532.66h2.37v2.81h-2.37zM222.36 536.38h2.37v2.81h-2.37zM224.13 540.09h2.37v2.81h-2.37zM225.90 525.24h2.37v6.52h-2.37zM229.45 536.38h2.37v2.81h-2.37zM229.45 532.66h2.37v2.81h-2.37zM231.22 532.66h2.37v2.81h-2.37zM233.00 532.66h2.37v2.81h-2.37zM234.77 536.38h2.37v2.81h-2.37zM236.54 532.66h2.37v2.81h-2.37zM238.32 532.66h2.37v2.81h-2.37zM240.09 532.66h2.37v2.81h-2.37zM243.64 528.95h2.37v2.81h-2.37zM245.41 536.38h2.37v6.52h-2.37zM247.18 536.38h2.37v2.81h-2.37zM252.50 540.09h2.37v2.81h-2.37zM257.82 540.09h2.37v2.81h-2.37zM341.17 540.09h2.37v2.81h-2.37zM342.94 540.09h2.37v2.81h-2.37zM362.45 540.09h2.37v2.81h-2.37zM381.95 540.09h2.37v2.81h-2.37zM383.73 540.09h2.37v2.81h-2.37zM401.46 536.38h2.37v2.81h-2.37zM408.55 532.66h2.37v2.81h-2.37zM413.87 521.53h2.37v2.81h-2.37zM415.65 491.83h2.37v6.52h-2.37zM417.42 528.95h2.37v2.81h-2.37zM419.19 510.39h2.37v6.52h-2.37zM420.97 525.24h2.37v2.81h-2.37zM422.74 514.10h2.37v2.81h-2.37zM424.51 521.53h2.37v2.81h-2.37zM426.29 506.68h2.37v2.81h-2.37zM426.29 502.97h2.37v2.81h-2.37zM428.06 484.41h2.37v13.95h-2.37zM428.06 480.70h2.37v2.81h-2.37zM429.83 484.41h2.37v13.95h-2.37zM429.83 480.70h2.37v2.81h-2.37zM431.61 480.70h2.37v17.66h-2.37zM431.61 476.98h2.37v2.81h-2.37zM433.38 488.12h2.37v6.52h-2.37zM433.38 484.41h2.37v2.81h-2.37zM435.15 510.39h2.37v2.81h-2.37zM436.93 510.39h2.37v2.81h-2.37zM438.70 506.68h2.37v2.81h-2.37zM440.47 506.68h2.37v13.95h-2.37zM440.47 499.26h2.37v6.52h-2.37zM442.25 469.56h2.37v6.52h-2.37zM444.02 499.26h2.37v2.81h-2.37zM444.02 491.83h2.37v6.52h-2.37zM445.79 502.97h2.37v2.81h-2.37zM445.79 499.26h2.37v2.81h-2.37zM447.57 528.95h2.37v2.81h-2.37zM449.34 517.82h2.37v2.81h-2.37zM449.34 514.10h2.37v2.81h-2.37zM451.11 536.38h2.37v2.81h-2.37zM452.89 532.66h2.37v2.81h-2.37zM454.66 525.24h2.37v6.52h-2.37zM456.43 536.38h2.37v2.81h-2.37zM458.21 528.95h2.37v2.81h-2.37zM459.98 525.24h2.37v2.81h-2.37zM465.30 536.38h2.37v2.81h-2.37zM467.07 532.66h2.37v2.81h-2.37zM468.85 528.95h2.37v2.81h-2.37zM470.62 532.66h2.37v2.81h-2.37zM477.71 532.66h2.37v2.81h-2.37zM490.13 536.38h2.37v2.81h-2.37zM493.67 540.09h2.37v2.81h-2.37zM504.31 532.66h2.37v2.81h-2.37zM507.86 532.66h2.37v2.81h-2.37zM509.63 521.53h2.37v2.81h-2.37zM530.91 536.38h2.37v2.81h-2.37zM532.68 525.24h2.37v2.81h-2.37zM546.87 536.38h2.37v2.81h-2.37zM550.42 540.09h2.37v2.81h-2.37zM578.79 517.82h2.37v2.81h-2.37zM580.56 532.66h2.37v2.81h-2.37zM582.34 528.95h2.37v2.81h-2.37zM592.98 536.38h2.37v2.81h-2.37zM594.75 525.24h2.37v2.81h-2.37zM598.30 536.38h2.37v2.81h-2.37zM600.07 528.95h2.37v2.81h-2.37zM600.07 525.24h2.37v2.81h-2.37zM601.84 532.66h2.37v2.81h-2.37zM603.62 525.24h2.37v2.81h-2.37zM603.62 521.53h2.37v2.81h-2.37zM605.39 525.24h2.37v2.81h-2.37zM607.16 521.53h2.37v6.52h-2.37zM607.16 514.10h2.37v6.52h-2.37zM608.94 528.95h2.37v2.81h-2.37zM610.71 525.24h2.37v2.81h-2.37zM612.48 521.53h2.37v6.52h-2.37zM614.26 502.97h2.37v6.52h-2.37zM614.26 499.26h2.37v2.81h-2.37zM616.03 521.53h2.37v6.52h-2.37zM616.03 517.82h2.37v2.81h-2.37zM617.80 525.24h2.37v2.81h-2.37zM619.58 521.53h2.37v2.81h-2.37zM619.58 517.82h2.37v2.81h-2.37zM621.35 532.66h2.37v2.81h-2.37zM623.12 521.53h2.37v2.81h-2.37zM624.90 495.54h2.37v2.81h-2.37zM624.90 491.83h2.37v2.81h-2.37zM626.67 502.97h2.37v2.81h-2.37zM626.67 499.26h2.37v2.81h-2.37zM628.44 502.97h2.37v2.81h-2.37zM630.22 499.26h2.37v6.52h-2.37zM630.22 495.54h2.37v2.81h-2.37zM631.99 514.10h2.37v2.81h-2.37zM631.99 499.26h2.37v13.95h-2.37zM633.76 517.82h2.37v2.81h-2.37zM633.76 514.10h2.37v2.81h-2.37zM635.54 517.82h2.37v6.52h-2.37zM637.31 499.26h2.37v2.81h-2.37zM639.08 476.98h2.37v2.81h-2.37zM639.08 462.14h2.37v13.95h-2.37zM640.86 480.70h2.37v17.66h-2.37zM640.86 465.85h2.37v13.95h-2.37zM642.63 458.42h2.37v13.95h-2.37zM642.63 454.71h2.37v2.81h-2.37zM644.40 506.68h2.37v6.52h-2.37zM646.18 502.97h2.37v13.95h-2.37zM646.18 491.83h2.37v10.24h-2.37zM647.95 514.10h2.37v6.52h-2.37zM649.72 462.14h2.37v13.95h-2.37zM651.50 495.54h2.37v2.81h-2.37zM651.50 488.12h2.37v6.52h-2.37zM653.27 465.85h2.37v21.37h-2.37zM653.27 447.29h2.37v17.66h-2.37zM655.04 469.56h2.37v13.95h-2.37zM655.04 451.00h2.37v17.66h-2.37zM656.82 491.83h2.37v2.81h-2.37zM656.82 480.70h2.37v10.24h-2.37zM658.59 480.70h2.37v10.24h-2.37zM660.36 476.98h2.37v10.24h-2.37zM662.14 476.98h2.37v17.66h-2.37zM662.14 462.14h2.37v13.95h-2.37zM663.91 480.70h2.37v2.81h-2.37zM663.91 458.42h2.37v21.37h-2.37zM665.68 436.15h2.37v25.08h-2.37zM665.68 417.59h2.37v17.66h-2.37zM667.46 447.29h2.37v25.08h-2.37zM667.46 432.44h2.37v13.95h-2.37zM669.23 469.56h2.37v6.52h-2.37zM669.23 465.85h2.37v2.81h-2.37zM671.00 432.44h2.37v6.52h-2.37zM671.00 421.30h2.37v10.24h-2.37zM672.78 432.44h2.37v13.95h-2.37zM672.78 425.02h2.37v6.52h-2.37zM674.55 462.14h2.37v6.52h-2.37zM674.55 451.00h2.37v10.24h-2.37zM676.32 425.02h2.37v6.52h-2.37zM676.32 413.88h2.37v10.24h-2.37zM678.10 432.44h2.37v6.52h-2.37zM678.10 421.30h2.37v10.24h-2.37zM679.87 436.15h2.37v2.81h-2.37zM679.87 425.02h2.37v10.24h-2.37zM681.64 502.97h2.37v6.52h-2.37zM681.64 488.12h2.37v13.95h-2.37zM683.42 480.70h2.37v6.52h-2.37zM685.19 454.71h2.37v6.52h-2.37zM685.19 451.00h2.37v2.81h-2.37zM686.96 402.74h2.37v21.37h-2.37zM686.96 387.90h2.37v13.95h-2.37zM688.74 443.58h2.37v17.66h-2.37zM688.74 425.02h2.37v17.66h-2.37zM690.51 436.15h2.37v13.95h-2.37zM690.51 417.59h2.37v17.66h-2.37zM692.28 447.29h2.37v21.37h-2.37zM692.28 413.88h2.37v32.51h-2.37zM694.06 417.59h2.37v21.37h-2.37zM694.06 402.74h2.37v13.95h-2.37zM695.83 428.73h2.37v2.81h-2.37zM695.83 417.59h2.37v10.24h-2.37zM697.60 495.54h2.37v2.81h-2.37zM697.60 484.41h2.37v10.24h-2.37zM699.38 402.74h2.37v25.08h-2.37zM699.38 376.76h2.37v25.08h-2.37zM701.15 417.59h2.37v17.66h-2.37zM701.15 410.17h2.37v6.52h-2.37zM702.92 410.17h2.37v13.95h-2.37zM702.92 399.03h2.37v10.24h-2.37zM704.70 421.30h2.37v13.95h-2.37zM704.70 406.46h2.37v13.95h-2.37zM706.47 454.71h2.37v6.52h-2.37zM706.47 428.73h2.37v25.08h-2.37zM708.24 443.58h2.37v32.51h-2.37zM708.24 413.88h2.37v28.80h-2.37zM710.01 365.62h2.37v47.36h-2.37zM710.01 324.79h2.37v39.93h-2.37zM711.79 335.93h2.37v25.08h-2.37zM711.79 313.66h2.37v21.37h-2.37zM713.56 380.47h2.37v28.80h-2.37zM713.56 343.35h2.37v36.22h-2.37zM715.33 395.32h2.37v36.22h-2.37zM715.33 324.79h2.37v69.63h-2.37zM717.11 391.61h2.37v54.78h-2.37zM717.11 347.06h2.37v43.64h-2.37zM718.88 332.22h2.37v25.08h-2.37zM718.88 309.94h2.37v21.37h-2.37zM720.65 387.90h2.37v10.24h-2.37zM720.65 369.34h2.37v17.66h-2.37zM722.43 473.27h2.37v21.37h-2.37zM722.43 462.14h2.37v10.24h-2.37zM724.20 417.59h2.37v25.08h-2.37zM724.20 384.18h2.37v32.51h-2.37zM725.97 406.46h2.37v2.81h-2.37zM725.97 387.90h2.37v17.66h-2.37zM727.75 365.62h2.37v21.37h-2.37zM727.75 343.35h2.37v21.37h-2.37zM729.52 413.88h2.37v6.52h-2.37zM729.52 399.03h2.37v13.95h-2.37zM731.29 306.23h2.37v13.95h-2.37zM731.29 276.54h2.37v28.80h-2.37zM733.07 425.02h2.37v13.95h-2.37zM733.07 413.88h2.37v10.24h-2.37zM734.84 432.44h2.37v17.66h-2.37zM734.84 410.17h2.37v21.37h-2.37zM736.61 358.20h2.37v10.24h-2.37zM736.61 343.35h2.37v13.95h-2.37zM738.39 447.29h2.37v13.95h-2.37zM738.39 439.86h2.37v6.52h-2.37zM740.16 395.32h2.37v43.64h-2.37zM740.16 369.34h2.37v25.08h-2.37zM741.93 451.00h2.37v43.64h-2.37zM741.93 432.44h2.37v17.66h-2.37zM743.71 488.12h2.37v10.24h-2.37zM743.71 473.27h2.37v13.95h-2.37zM745.48 469.56h2.37v10.24h-2.37zM745.48 447.29h2.37v21.37h-2.37zM747.25 425.02h2.37v6.52h-2.37zM747.25 413.88h2.37v10.24h-2.37zM749.03 451.00h2.37v17.66h-2.37zM749.03 439.86h2.37v10.24h-2.37zM750.80 421.30h2.37v10.24h-2.37zM750.80 395.32h2.37v25.08h-2.37zM752.57 451.00h2.37v51.07h-2.37zM752.57 421.30h2.37v28.80h-2.37zM754.35 473.27h2.37v6.52h-2.37zM754.35 465.85h2.37v6.52h-2.37z"/>
<path fill="#38c8dc" d="M158.52 540.09h2.37v2.81h-2.37zM160.29 540.09h2.37v2.81h-2.37zM193.98 540.09h2.37v2.81h-2.37zM208.17 540.09h2.37v2.81h-2.37zM218.81 525.24h2.37v2.81h-2.37zM220.58 528.95h2.37v2.81h-2.37zM222.36 532.66h2.37v2.81h-2.37zM224.13 536.38h2.37v2.81h-2.37zM225.90 521.53h2.37v2.81h-2.37zM227.68 510.39h2.37v2.81h-2.37zM229.45 528.95h2.37v2.81h-2.37zM231.22 525.24h2.37v6.52h-2.37zM233.00 525.24h2.37v6.52h-2.37zM234.77 528.95h2.37v6.52h-2.37zM236.54 521.53h2.37v10.24h-2.37zM236.54 517.82h2.37v2.81h-2.37zM238.32 521.53h2.37v10.24h-2.37zM238.32 517.82h2.37v2.81h-2.37zM241.86 521.53h2.37v2.81h-2.37zM243.64 521.53h2.37v6.52h-2.37zM243.64 517.82h2.37v2.81h-2.37zM248.96 540.09h2.37v2.81h-2.37zM254.28 540.09h2.37v2.81h-2.37zM256.05 540.09h2.37v2.81h-2.37zM257.82 536.38h2.37v2.81h-2.37zM357.13 540.09h2.37v2.81h-2.37zM412.10 536.38h2.37v2.81h-2.37zM413.87 517.82h2.37v2.81h-2.37zM415.65 488.12h2.37v2.81h-2.37zM417.42 525.24h2.37v2.81h-2.37zM419.19 506.68h2.37v2.81h-2.37zM424.51 517.82h2.37v2.81h-2.37zM426.29 488.12h2.37v13.95h-2.37zM428.06 476.98h2.37v2.81h-2.37zM428.06 469.56h2.37v6.52h-2.37zM429.83 476.98h2.37v2.81h-2.37zM429.83 469.56h2.37v6.52h-2.37zM431.61 473.27h2.37v2.81h-2.37zM433.38 480.70h2.37v2.81h-2.37zM435.15 506.68h2.37v2.81h-2.37zM436.93 506.68h2.37v2.81h-2.37zM438.70 502.97h2.37v2.81h-2.37zM440.47 495.54h2.37v2.81h-2.37zM440.47 488.12h2.37v6.52h-2.37zM442.25 462.14h2.37v6.52h-2.37zM444.02 488.12h2.37v2.81h-2.37zM445.79 495.54h2.37v2.81h-2.37zM447.57 517.82h2.37v10.24h-2.37zM447.57 514.10h2.37v2.81h-2.37zM449.34 510.39h2.37v2.81h-2.37zM449.34 506.68h2.37v2.81h-2.37zM451.11 532.66h2.37v2.81h-2.37zM452.89 528.95h2.37v2.81h-2.37zM454.66 521.53h2.37v2.81h-2.37zM454.66 517.82h2.37v2.81h-2.37zM456.43 532.66h2.37v2.81h-2.37zM456.43 528.95h2.37v2.81h-2.37zM458.21 525.24h2.37v2.81h-2.37zM459.98 521.53h2.37v2.81h-2.37zM459.98 517.82h2.37v2.81h-2.37zM461.75 532.66h2.37v2.81h-2.37zM463.53 532.66h2.37v2.81h-2.37zM467.07 528.95h2.37v2.81h-2.37zM470.62 528.95h2.37v2.81h-2.37zM474.17 532.66h2.37v2.81h-2.37zM488.35 540.09h2.37v2.81h-2.37zM490.13 532.66h2.37v2.81h-2.37zM506.09 532.66h2.37v2.81h-2.37zM507.86 528.95h2.37v2.81h-2.37zM509.63 517.82h2.37v2.81h-2.37zM509.63 510.39h2.37v6.52h-2.37zM525.59 540.09h2.37v2.81h-2.37zM529.14 532.66h2.37v2.81h-2.37zM530.91 532.66h2.37v2.81h-2.37zM539.78 540.09h2.37v2.81h-2.37zM557.51 536.38h2.37v2.81h-2.37zM564.60 536.38h2.37v2.81h-2.37zM566.38 536.38h2.37v2.81h-2.37zM575.24 532.66h2.37v2.81h-2.37zM578.79 514.10h2.37v2.81h-2.37zM580.56 528.95h2.37v2.81h-2.37zM582.34 525.24h2.37v2.81h-2.37zM591.20 536.38h2.37v2.81h-2.37zM592.98 532.66h2.37v2.81h-2.37zM594.75 517.82h2.37v6.52h-2.37zM598.30 532.66h2.37v2.81h-2.37zM600.07 521.53h2.37v2.81h-2.37zM601.84 528.95h2.37v2.81h-2.37zM603.62 517.82h2.37v2.81h-2.37zM605.39 521.53h2.37v2.81h-2.37zM607.16 506.68h2.37v6.52h-2.37zM610.71 521.53h2.37v2.81h-2.37zM612.48 517.82h2.37v2.81h-2.37zM614.26 495.54h2.37v2.81h-2.37zM614.26 491.83h2.37v2.81h-2.37zM616.03 506.68h2.37v10.24h-2.37zM616.03 502.97h2.37v2.81h-2.37zM617.80 521.53h2.37v2.81h-2.37zM617.80 517.82h2.37v2.81h-2.37zM619.58 514.10h2.37v2.81h-2.37zM621.35 528.95h2.37v2.81h-2.37zM623.12 517.82h2.37v2.81h-2.37zM624.90 488.12h2.37v2.81h-2.37zM626.67 495.54h2.37v2.81h-2.37zM628.44 495.54h2.37v6.52h-2.37zM630.22 488.12h2.37v6.52h-2.37zM630.22 476.98h2.37v10.24h-2.37zM631.99 491.83h2.37v6.52h-2.37zM631.99 480.70h2.37v10.24h-2.37zM633.76 510.39h2.37v2.81h-2.37zM633.76 502.97h2.37v6.52h-2.37zM635.54 514.10h2.37v2.81h-2.37zM637.31 488.12h2.37v10.24h-2.37zM639.08 454.71h2.37v6.52h-2.37zM640.86 462.14h2.37v2.81h-2.37zM640.86 454.71h2.37v6.52h-2.37zM642.63 443.58h2.37v10.24h-2.37zM642.63 439.86h2.37v2.81h-2.37zM644.40 502.97h2.37v2.81h-2.37zM646.18 488.12h2.37v2.81h-2.37zM647.95 510.39h2.37v2.81h-2.37zM649.72 451.00h2.37v10.24h-2.37zM649.72 439.86h2.37v10.24h-2.37zM651.50 480.70h2.37v6.52h-2.37zM651.50 476.98h2.37v2.81h-2.37zM653.27 439.86h2.37v6.52h-2.37zM653.27 436.15h2.37v2.81h-2.37zM655.04 443.58h2.37v6.52h-2.37zM656.82 469.56h2.37v10.24h-2.37zM656.82 462.14h2.37v6.52h-2.37zM658.59 469.56h2.37v10.24h-2.37zM658.59 462.14h2.37v6.52h-2.37zM660.36 462.14h2.37v13.95h-2.37zM660.36 447.29h2.37v13.95h-2.37zM662.14 454.71h2.37v6.52h-2.37zM662.14 451.00h2.37v2.81h-2.37zM663.91 432.44h2.37v25.08h-2.37zM663.91 402.74h2.37v28.80h-2.37zM665.68 410.17h2.37v6.52h-2.37zM665.68 399.03h2.37v10.24h-2.37zM667.46 417.59h2.37v13.95h-2.37zM667.46 410.17h2.37v6.52h-2.37zM669.23 451.00h2.37v13.95h-2.37zM669.23 439.86h2.37v10.24h-2.37zM671.00 395.32h2.37v25.08h-2.37zM671.00 376.76h2.37v17.66h-2.37zM672.78 421.30h2.37v2.81h-2.37zM672.78 410.17h2.37v10.24h-2.37zM674.55 447.29h2.37v2.81h-2.37zM674.55 439.86h2.37v6.52h-2.37zM676.32 406.46h2.37v6.52h-2.37zM676.32 399.03h2.37v6.52h-2.37zM678.10 413.88h2.37v6.52h-2.37zM678.10 406.46h2.37v6.52h-2.37zM679.87 421.30h2.37v2.81h-2.37zM679.87 413.88h2.37v6.52h-2.37zM681.64 480.70h2.37v6.52h-2.37zM683.42 473.27h2.37v6.52h-2.37zM683.42 458.42h2.37v13.95h-2.37zM685.19 439.86h2.37v10.24h-2.37zM685.19 436.15h2.37v2.81h-2.37zM686.96 376.76h2.37v10.24h-2.37zM686.96 369.34h2.37v6.52h-2.37zM688.74 395.32h2.37v28.80h-2.37zM688.74 365.62h2.37v28.80h-2.37zM690.51 380.47h2.37v36.22h-2.37zM690.51 354.49h2.37v25.08h-2.37zM692.28 399.03h2.37v13.95h-2.37zM692.28 384.18h2.37v13.95h-2.37zM694.06 384.18h2.37v17.66h-2.37zM694.06 369.34h2.37v13.95h-2.37zM695.83 406.46h2.37v10.24h-2.37zM695.83 399.03h2.37v6.52h-2.37zM697.60 465.85h2.37v17.66h-2.37zM697.60 451.00h2.37v13.95h-2.37zM699.38 358.20h2.37v17.66h-2.37zM699.38 354.49h2.37v2.81h-2.37zM701.15 384.18h2.37v25.08h-2.37zM701.15 369.34h2.37v13.95h-2.37zM702.92 373.05h2.37v25.08h-2.37zM702.92 354.49h2.37v17.66h-2.37zM704.70 384.18h2.37v21.37h-2.37zM704.70 365.62h2.37v17.66h-2.37zM706.47 387.90h2.37v39.93h-2.37zM706.47 358.20h2.37v28.80h-2.37zM708.24 391.61h2.37v21.37h-2.37zM708.24 361.91h2.37v28.80h-2.37zM710.01 283.96h2.37v39.93h-2.37zM710.01 265.40h2.37v17.66h-2.37zM711.79 291.38h2.37v21.37h-2.37zM711.79 235.70h2.37v54.78h-2.37zM713.56 317.37h2.37v25.08h-2.37zM713.56 291.38h2.37v25.08h-2.37zM715.33 283.96h2.37v39.93h-2.37zM715.33 243.13h2.37v39.93h-2.37zM717.11 339.64h2.37v6.52h-2.37zM717.11 309.94h2.37v28.80h-2.37zM718.88 287.67h2.37v21.37h-2.37zM718.88 239.42h2.37v47.36h-2.37zM720.65 358.20h2.37v10.24h-2.37zM720.65 343.35h2.37v13.95h-2.37zM722.43 439.86h2.37v21.37h-2.37zM722.43 421.30h2.37v17.66h-2.37zM724.20 369.34h2.37v13.95h-2.37zM724.20 335.93h2.37v32.51h-2.37zM725.97 365.62h2.37v21.37h-2.37zM725.97 350.78h2.37v13.95h-2.37zM727.75 328.50h2.37v13.95h-2.37zM727.75 295.10h2.37v32.51h-2.37zM729.52 350.78h2.37v47.36h-2.37zM729.52 317.37h2.37v32.51h-2.37zM731.29 254.26h2.37v21.37h-2.37zM731.29 239.42h2.37v13.95h-2.37zM733.07 387.90h2.37v25.08h-2.37zM733.07 350.78h2.37v36.22h-2.37zM734.84 387.90h2.37v21.37h-2.37zM734.84 358.20h2.37v28.80h-2.37zM736.61 309.94h2.37v32.51h-2.37zM736.61 261.69h2.37v47.36h-2.37zM738.39 432.44h2.37v6.52h-2.37zM738.39 417.59h2.37v13.95h-2.37zM740.16 358.20h2.37v10.24h-2.37zM740.16 347.06h2.37v10.24h-2.37zM741.93 421.30h2.37v10.24h-2.37zM741.93 395.32h2.37v25.08h-2.37zM743.71 462.14h2.37v10.24h-2.37zM743.71 436.15h2.37v25.08h-2.37zM745.48 428.73h2.37v17.66h-2.37zM745.48 417.59h2.37v10.24h-2.37zM747.25 391.61h2.37v21.37h-2.37zM747.25 387.90h2.37v2.81h-2.37zM749.03 417.59h2.37v21.37h-2.37zM749.03 399.03h2.37v17.66h-2.37zM750.80 373.05h2.37v21.37h-2.37zM750.80 361.91h2.37v10.24h-2.37zM752.57 413.88h2.37v6.52h-2.37zM752.57 395.32h2.37v17.66h-2.37zM754.35 451.00h2.37v13.95h-2.37zM754.35 436.15h2.37v13.95h-2.37zM756.12 528.95h1.77v2.81h-1.77z"/>
<path fill="#3372d2" d="M201.08 540.09h2.37v2.81h-2.37zM204.62 532.66h2.37v2.81h-2.37zM209.94 540.09h2.37v2.81h-2.37zM211.72 540.09h2.37v2.81h-2.37zM213.49 540.09h2.37v2.81h-2.37zM217.04 532.66h2.37v6.52h-2.37zM217.04 528.95h2.37v2.81h-2.37zM220.58 525.24h2.37v2.81h-2.37zM227.68 502.97h2.37v6.52h-2.37zM229.45 525.24h2.37v2.81h-2.37zM229.45 521.53h2.37v2.81h-2.37zM231.22 521.53h2.37v2.81h-2.37zM233.00 517.82h2.37v6.52h-2.37zM234.77 521.53h2.37v6.52h-2.37zM234.77 517.82h2.37v2.81h-2.37zM236.54 514.10h2.37v2.81h-2.37zM238.32 514.10h2.37v2.81h-2.37zM238.32 506.68h2.37v6.52h-2.37zM241.86 517.82h2.37v2.81h-2.37zM243.64 514.10h2.37v2.81h-2.37zM245.41 528.95h2.37v6.52h-2.37zM250.73 540.09h2.37v2.81h-2.37zM252.50 536.38h2.37v2.81h-2.37zM256.05 536.38h2.37v2.81h-2.37zM428.06 465.85h2.37v2.81h-2.37zM429.83 462.14h2.37v6.52h-2.37zM429.83 451.00h2.37v10.24h-2.37zM431.61 469.56h2.37v2.81h-2.37zM433.38 476.98h2.37v2.81h-2.37zM438.70 495.54h2.37v6.52h-2.37zM438.70 488.12h2.37v6.52h-2.37zM442.25 458.42h2.37v2.81h-2.37zM442.25 454.71h2.37v2.81h-2.37zM444.02 484.41h2.37v2.81h-2.37zM445.79 488.12h2.37v6.52h-2.37zM445.79 484.41h2.37v2.81h-2.37zM447.57 510.39h2.37v2.81h-2.37zM449.34 502.97h2.37v2.81h-2.37zM451.11 528.95h2.37v2.81h-2.37zM452.89 525.24h2.37v2.81h-2.37zM454.66 514.10h2.37v2.81h-2.37zM456.43 525.24h2.37v2.81h-2.37zM458.21 521.53h2.37v2.81h-2.37zM459.98 514.10h2.37v2.81h-2.37zM467.07 525.24h2.37v2.81h-2.37zM474.17 528.95h2.37v2.81h-2.37zM490.13 528.95h2.37v2.81h-2.37zM507.86 525.24h2.37v2.81h-2.37zM509.63 506.68h2.37v2.81h-2.37zM520.27 540.09h2.37v2.81h-2.37zM538.00 525.24h2.37v2.81h-2.37zM577.02 528.95h2.37v2.81h-2.37zM578.79 510.39h2.37v2.81h-2.37zM582.34 521.53h2.37v2.81h-2.37zM592.98 528.95h2.37v2.81h-2.37zM600.07 517.82h2.37v2.81h-2.37zM601.84 525.24h2.37v2.81h-2.37zM605.39 517.82h2.37v2.81h-2.37zM607.16 499.26h2.37v6.52h-2.37zM607.16 495.54h2.37v2.81h-2.37zM612.48 510.39h2.37v6.52h-2.37zM614.26 488.12h2.37v2.81h-2.37zM616.03 499.26h2.37v2.81h-2.37zM617.80 514.10h2.37v2.81h-2.37zM624.90 484.41h2.37v2.81h-2.37zM626.67 491.83h2.37v2.81h-2.37zM628.44 491.83h2.37v2.81h-2.37zM630.22 473.27h2.37v2.81h-2.37zM631.99 476.98h2.37v2.81h-2.37zM633.76 499.26h2.37v2.81h-2.37zM635.54 510.39h2.37v2.81h-2.37zM637.31 484.41h2.37v2.81h-2.37zM639.08 451.00h2.37v2.81h-2.37zM639.08 447.29h2.37v2.81h-2.37zM640.86 451.00h2.37v2.81h-2.37zM642.63 436.15h2.37v2.81h-2.37zM644.40 499.26h2.37v2.81h-2.37zM646.18 484.41h2.37v2.81h-2.37zM649.72 432.44h2.37v6.52h-2.37zM651.50 462.14h2.37v13.95h-2.37zM651.50 458.42h2.37v2.81h-2.37zM653.27 432.44h2.37v2.81h-2.37zM653.27 428.73h2.37v2.81h-2.37zM655.04 439.86h2.37v2.81h-2.37zM656.82 454.71h2.37v6.52h-2.37zM656.82 451.00h2.37v2.81h-2.37zM658.59 451.00h2.37v10.24h-2.37zM658.59 447.29h2.37v2.81h-2.37zM660.36 443.58h2.37v2.81h-2.37zM660.36 436.15h2.37v6.52h-2.37zM662.14 425.02h2.37v25.08h-2.37zM663.91 395.32h2.37v6.52h-2.37zM665.68 384.18h2.37v13.95h-2.37zM667.46 402.74h2.37v6.52h-2.37zM669.23 432.44h2.37v6.52h-2.37zM669.23 413.88h2.37v17.66h-2.37zM671.00 373.05h2.37v2.81h-2.37zM671.00 369.34h2.37v2.81h-2.37zM672.78 406.46h2.37v2.81h-2.37zM672.78 395.32h2.37v10.24h-2.37zM674.55 436.15h2.37v2.81h-2.37zM674.55 432.44h2.37v2.81h-2.37zM676.32 387.90h2.37v10.24h-2.37zM678.10 402.74h2.37v2.81h-2.37zM678.10 399.03h2.37v2.81h-2.37zM679.87 406.46h2.37v6.52h-2.37zM679.87 395.32h2.37v10.24h-2.37zM681.64 465.85h2.37v13.95h-2.37zM681.64 451.00h2.37v13.95h-2.37zM683.42 447.29h2.37v10.24h-2.37zM685.19 413.88h2.37v21.37h-2.37zM685.19 410.17h2.37v2.81h-2.37zM686.96 365.62h2.37v2.81h-2.37zM686.96 361.91h2.37v2.81h-2.37zM688.74 358.20h2.37v6.52h-2.37zM688.74 354.49h2.37v2.81h-2.37zM690.51 347.06h2.37v6.52h-2.37zM692.28 369.34h2.37v13.95h-2.37zM692.28 361.91h2.37v6.52h-2.37zM694.06 365.62h2.37v2.81h-2.37zM694.06 358.20h2.37v6.52h-2.37zM695.83 387.90h2.37v10.24h-2.37zM695.83 384.18h2.37v2.81h-2.37zM697.60 443.58h2.37v6.52h-2.37zM697.60 432.44h2.37v10.24h-2.37zM699.38 339.64h2.37v13.95h-2.37zM701.15 354.49h2.37v13.95h-2.37zM702.92 350.78h2.37v2.81h-2.37zM702.92 347.06h2.37v2.81h-2.37zM704.70 358.20h2.37v6.52h-2.37zM704.70 350.78h2.37v6.52h-2.37zM706.47 347.06h2.37v10.24h-2.37zM706.47 343.35h2.37v2.81h-2.37zM708.24 358.20h2.37v2.81h-2.37zM708.24 354.49h2.37v2.81h-2.37zM710.01 257.98h2.37v6.52h-2.37zM710.01 246.84h2.37v10.24h-2.37zM711.79 228.28h2.37v6.52h-2.37zM713.56 287.67h2.37v2.81h-2.37zM713.56 283.96h2.37v2.81h-2.37zM715.33 235.70h2.37v6.52h-2.37zM715.33 231.99h2.37v2.81h-2.37zM717.11 298.81h2.37v10.24h-2.37zM717.11 280.25h2.37v17.66h-2.37zM718.88 217.14h2.37v21.37h-2.37zM718.88 206.01h2.37v10.24h-2.37zM720.65 335.93h2.37v6.52h-2.37zM720.65 324.79h2.37v10.24h-2.37zM722.43 417.59h2.37v2.81h-2.37zM724.20 332.22h2.37v2.81h-2.37zM724.20 328.50h2.37v2.81h-2.37zM725.97 335.93h2.37v13.95h-2.37zM725.97 321.08h2.37v13.95h-2.37zM727.75 287.67h2.37v6.52h-2.37zM729.52 309.94h2.37v6.52h-2.37zM731.29 235.70h2.37v2.81h-2.37zM731.29 231.99h2.37v2.81h-2.37zM733.07 347.06h2.37v2.81h-2.37zM733.07 339.64h2.37v6.52h-2.37zM734.84 354.49h2.37v2.81h-2.37zM736.61 257.98h2.37v2.81h-2.37zM736.61 254.26h2.37v2.81h-2.37zM738.39 410.17h2.37v6.52h-2.37zM738.39 406.46h2.37v2.81h-2.37zM740.16 339.64h2.37v6.52h-2.37zM741.93 391.61h2.37v2.81h-2.37zM741.93 387.90h2.37v2.81h-2.37zM743.71 425.02h2.37v10.24h-2.37zM745.48 413.88h2.37v2.81h-2.37zM747.25 384.18h2.37v2.81h-2.37zM749.03 395.32h2.37v2.81h-2.37zM750.80 354.49h2.37v6.52h-2.37zM750.80 347.06h2.37v6.52h-2.37zM752.57 380.47h2.37v13.95h-2.37zM752.57 365.62h2.37v13.95h-2.37zM754.35 432.44h2.37v2.81h-2.37z"/>
<path fill="#3a35c2" d="M202.85 536.38h2.37v2.81h-2.37zM206.40 532.66h2.37v2.81h-2.37zM208.17 536.38h2.37v2.81h-2.37zM209.94 536.38h2.37v2.81h-2.37zM211.72 536.38h2.37v2.81h-2.37zM213.49 536.38h2.37v2.81h-2.37zM220.58 521.53h2.37v2.81h-2.37zM222.36 528.95h2.37v2.81h-2.37zM224.13 532.66h2.37v2.81h-2.37zM229.45 517.82h2.37v2.81h-2.37zM231.22 517.82h2.37v2.81h-2.37zM231.22 506.68h2.37v10.24h-2.37zM233.00 506.68h2.37v10.24h-2.37zM234.77 514.10h2.37v2.81h-2.37zM234.77 506.68h2.37v6.52h-2.37zM236.54 506.68h2.37v6.52h-2.37zM243.64 510.39h2.37v2.81h-2.37zM254.28 532.66h2.37v6.52h-2.37zM275.56 540.09h2.37v2.81h-2.37zM383.73 532.66h2.37v6.52h-2.37zM429.83 447.29h2.37v2.81h-2.37zM447.57 506.68h2.37v2.81h-2.37zM449.34 499.26h2.37v2.81h-2.37zM449.34 495.54h2.37v2.81h-2.37zM451.11 525.24h2.37v2.81h-2.37zM452.89 521.53h2.37v2.81h-2.37zM465.30 532.66h2.37v2.81h-2.37zM475.94 528.95h2.37v2.81h-2.37zM506.09 528.95h2.37v2.81h-2.37zM509.63 502.97h2.37v2.81h-2.37zM529.14 528.95h2.37v2.81h-2.37zM530.91 528.95h2.37v2.81h-2.37zM578.79 506.68h2.37v2.81h-2.37zM582.34 517.82h2.37v2.81h-2.37zM607.16 491.83h2.37v2.81h-2.37zM614.26 484.41h2.37v2.81h-2.37zM617.80 506.68h2.37v6.52h-2.37zM623.12 514.10h2.37v2.81h-2.37zM624.90 480.70h2.37v2.81h-2.37zM626.67 488.12h2.37v2.81h-2.37zM628.44 488.12h2.37v2.81h-2.37zM630.22 465.85h2.37v6.52h-2.37zM631.99 473.27h2.37v2.81h-2.37zM635.54 506.68h2.37v2.81h-2.37zM637.31 480.70h2.37v2.81h-2.37zM639.08 443.58h2.37v2.81h-2.37zM640.86 436.15h2.37v13.95h-2.37zM642.63 432.44h2.37v2.81h-2.37zM644.40 495.54h2.37v2.81h-2.37zM646.18 476.98h2.37v6.52h-2.37zM647.95 506.68h2.37v2.81h-2.37zM649.72 428.73h2.37v2.81h-2.37zM651.50 436.15h2.37v21.37h-2.37zM651.50 421.30h2.37v13.95h-2.37zM653.27 425.02h2.37v2.81h-2.37zM655.04 436.15h2.37v2.81h-2.37zM655.04 432.44h2.37v2.81h-2.37zM656.82 443.58h2.37v6.52h-2.37zM656.82 439.86h2.37v2.81h-2.37zM658.59 443.58h2.37v2.81h-2.37zM658.59 436.15h2.37v6.52h-2.37zM660.36 432.44h2.37v2.81h-2.37zM662.14 421.30h2.37v2.81h-2.37zM663.91 387.90h2.37v6.52h-2.37zM663.91 380.47h2.37v6.52h-2.37zM665.68 376.76h2.37v6.52h-2.37zM665.68 373.05h2.37v2.81h-2.37zM667.46 395.32h2.37v6.52h-2.37zM669.23 410.17h2.37v2.81h-2.37zM671.00 365.62h2.37v2.81h-2.37zM672.78 391.61h2.37v2.81h-2.37zM672.78 387.90h2.37v2.81h-2.37zM674.55 428.73h2.37v2.81h-2.37zM674.55 417.59h2.37v10.24h-2.37zM676.32 384.18h2.37v2.81h-2.37zM676.32 380.47h2.37v2.81h-2.37zM678.10 395.32h2.37v2.81h-2.37zM678.10 391.61h2.37v2.81h-2.37zM679.87 391.61h2.37v2.81h-2.37zM681.64 447.29h2.37v2.81h-2.37zM681.64 443.58h2.37v2.81h-2.37zM683.42 443.58h2.37v2.81h-2.37zM685.19 406.46h2.37v2.81h-2.37zM686.96 354.49h2.37v6.52h-2.37zM686.96 350.78h2.37v2.81h-2.37zM688.74 347.06h2.37v6.52h-2.37zM690.51 339.64h2.37v6.52h-2.37zM692.28 358.20h2.37v2.81h-2.37zM692.28 354.49h2.37v2.81h-2.37zM694.06 354.49h2.37v2.81h-2.37zM695.83 380.47h2.37v2.81h-2.37zM697.60 428.73h2.37v2.81h-2.37zM697.60 425.02h2.37v2.81h-2.37zM699.38 335.93h2.37v2.81h-2.37zM699.38 332.22h2.37v2.81h-2.37zM701.15 321.08h2.37v32.51h-2.37zM701.15 272.82h2.37v47.36h-2.37zM702.92 332.22h2.37v13.95h-2.37zM702.92 324.79h2.37v6.52h-2.37zM704.70 343.35h2.37v6.52h-2.37zM706.47 339.64h2.37v2.81h-2.37zM706.47 335.93h2.37v2.81h-2.37zM708.24 350.78h2.37v2.81h-2.37zM708.24 339.64h2.37v10.24h-2.37zM710.01 239.42h2.37v6.52h-2.37zM710.01 235.70h2.37v2.81h-2.37zM711.79 220.86h2.37v6.52h-2.37zM711.79 217.14h2.37v2.81h-2.37zM713.56 276.54h2.37v6.52h-2.37zM713.56 272.82h2.37v2.81h-2.37zM715.33 217.14h2.37v13.95h-2.37zM715.33 194.87h2.37v21.37h-2.37zM717.11 269.11h2.37v10.24h-2.37zM717.11 231.99h2.37v36.22h-2.37zM718.88 202.30h2.37v2.81h-2.37zM718.88 191.16h2.37v10.24h-2.37zM720.65 309.94h2.37v13.95h-2.37zM722.43 413.88h2.37v2.81h-2.37zM724.20 321.08h2.37v6.52h-2.37zM725.97 295.10h2.37v25.08h-2.37zM725.97 280.25h2.37v13.95h-2.37zM727.75 283.96h2.37v2.81h-2.37zM727.75 276.54h2.37v6.52h-2.37zM729.52 302.52h2.37v6.52h-2.37zM729.52 287.67h2.37v13.95h-2.37zM731.29 228.28h2.37v2.81h-2.37zM731.29 217.14h2.37v10.24h-2.37zM733.07 332.22h2.37v6.52h-2.37zM733.07 324.79h2.37v6.52h-2.37zM734.84 343.35h2.37v10.24h-2.37zM734.84 339.64h2.37v2.81h-2.37zM736.61 243.13h2.37v10.24h-2.37zM738.39 402.74h2.37v2.81h-2.37zM738.39 399.03h2.37v2.81h-2.37zM740.16 328.50h2.37v10.24h-2.37zM741.93 384.18h2.37v2.81h-2.37zM741.93 376.76h2.37v6.52h-2.37zM743.71 413.88h2.37v10.24h-2.37zM743.71 406.46h2.37v6.52h-2.37zM745.48 410.17h2.37v2.81h-2.37zM747.25 380.47h2.37v2.81h-2.37zM747.25 376.76h2.37v2.81h-2.37zM749.03 391.61h2.37v2.81h-2.37zM750.80 332.22h2.37v13.95h-2.37zM750.80 324.79h2.37v6.52h-2.37zM752.57 361.91h2.37v2.81h-2.37zM752.57 358.20h2.37v2.81h-2.37zM754.35 428.73h2.37v2.81h-2.37zM754.35 425.02h2.37v2.81h-2.37zM756.12 525.24h1.77v2.81h-1.77z"/>
<path fill="#6f31ad" d="M225.90 517.82h2.37v2.81h-2.37zM231.22 502.97h2.37v2.81h-2.37zM236.54 502.97h2.37v2.81h-2.37zM240.09 528.95h2.37v2.81h-2.37zM240.09 525.24h2.37v2.81h-2.37zM254.28 528.95h2.37v2.81h-2.37zM353.58 540.09h2.37v2.81h-2.37zM449.34 488.12h2.37v6.52h-2.37zM568.15 540.09h2.37v2.81h-2.37zM569.92 540.09h2.37v2.81h-2.37zM594.75 514.10h2.37v2.81h-2.37zM596.52 532.66h2.37v2.81h-2.37zM603.62 514.10h2.37v2.81h-2.37zM607.16 488.12h2.37v2.81h-2.37zM614.26 480.70h2.37v2.81h-2.37zM616.03 495.54h2.37v2.81h-2.37zM616.03 488.12h2.37v6.52h-2.37zM621.35 525.24h2.37v2.81h-2.37zM628.44 476.98h2.37v10.24h-2.37zM630.22 462.14h2.37v2.81h-2.37zM633.76 495.54h2.37v2.81h-2.37zM637.31 476.98h2.37v2.81h-2.37zM639.08 439.86h2.37v2.81h-2.37zM639.08 436.15h2.37v2.81h-2.37zM640.86 432.44h2.37v2.81h-2.37zM642.63 428.73h2.37v2.81h-2.37zM646.18 473.27h2.37v2.81h-2.37zM647.95 499.26h2.37v6.52h-2.37zM647.95 495.54h2.37v2.81h-2.37zM649.72 425.02h2.37v2.81h-2.37zM651.50 413.88h2.37v6.52h-2.37zM651.50 410.17h2.37v2.81h-2.37zM653.27 421.30h2.37v2.81h-2.37zM655.04 428.73h2.37v2.81h-2.37zM656.82 436.15h2.37v2.81h-2.37zM658.59 432.44h2.37v2.81h-2.37zM658.59 428.73h2.37v2.81h-2.37zM660.36 428.73h2.37v2.81h-2.37zM662.14 417.59h2.37v2.81h-2.37zM663.91 376.76h2.37v2.81h-2.37zM665.68 369.34h2.37v2.81h-2.37zM667.46 391.61h2.37v2.81h-2.37zM669.23 406.46h2.37v2.81h-2.37zM671.00 361.91h2.37v2.81h-2.37zM672.78 384.18h2.37v2.81h-2.37zM674.55 410.17h2.37v6.52h-2.37zM676.32 373.05h2.37v6.52h-2.37zM678.10 387.90h2.37v2.81h-2.37zM679.87 387.90h2.37v2.81h-2.37zM681.64 439.86h2.37v2.81h-2.37zM683.42 439.86h2.37v2.81h-2.37zM685.19 402.74h2.37v2.81h-2.37zM686.96 347.06h2.37v2.81h-2.37zM688.74 343.35h2.37v2.81h-2.37zM690.51 335.93h2.37v2.81h-2.37zM692.28 350.78h2.37v2.81h-2.37zM694.06 347.06h2.37v6.52h-2.37zM695.83 373.05h2.37v6.52h-2.37zM697.60 417.59h2.37v6.52h-2.37zM699.38 328.50h2.37v2.81h-2.37zM699.38 324.79h2.37v2.81h-2.37zM701.15 254.26h2.37v17.66h-2.37zM701.15 250.55h2.37v2.81h-2.37zM702.92 298.81h2.37v25.08h-2.37zM702.92 265.40h2.37v32.51h-2.37zM704.70 324.79h2.37v17.66h-2.37zM706.47 328.50h2.37v6.52h-2.37zM708.24 335.93h2.37v2.81h-2.37zM708.24 324.79h2.37v10.24h-2.37zM710.01 209.72h2.37v25.08h-2.37zM710.01 194.87h2.37v13.95h-2.37zM711.79 206.01h2.37v10.24h-2.37zM711.79 198.58h2.37v6.52h-2.37zM713.56 243.13h2.37v28.80h-2.37zM713.56 217.14h2.37v25.08h-2.37zM715.33 168.89h2.37v25.08h-2.37zM715.33 165.18h2.37v2.81h-2.37zM717.11 220.86h2.37v10.24h-2.37zM718.88 183.74h2.37v6.52h-2.37zM718.88 176.31h2.37v6.52h-2.37zM720.65 287.67h2.37v21.37h-2.37zM720.65 235.70h2.37v51.07h-2.37zM722.43 410.17h2.37v2.81h-2.37zM724.20 317.37h2.37v2.81h-2.37zM724.20 302.52h2.37v13.95h-2.37zM725.97 276.54h2.37v2.81h-2.37zM725.97 265.40h2.37v10.24h-2.37zM727.75 246.84h2.37v28.80h-2.37zM727.75 220.86h2.37v25.08h-2.37zM729.52 283.96h2.37v2.81h-2.37zM729.52 269.11h2.37v13.95h-2.37zM731.29 209.72h2.37v6.52h-2.37zM731.29 194.87h2.37v13.95h-2.37zM733.07 321.08h2.37v2.81h-2.37zM733.07 317.37h2.37v2.81h-2.37zM734.84 335.93h2.37v2.81h-2.37zM734.84 332.22h2.37v2.81h-2.37zM736.61 239.42h2.37v2.81h-2.37zM736.61 231.99h2.37v6.52h-2.37zM738.39 387.90h2.37v10.24h-2.37zM738.39 369.34h2.37v17.66h-2.37zM740.16 324.79h2.37v2.81h-2.37zM740.16 321.08h2.37v2.81h-2.37zM741.93 365.62h2.37v10.24h-2.37zM743.71 391.61h2.37v13.95h-2.37zM745.48 406.46h2.37v2.81h-2.37zM745.48 399.03h2.37v6.52h-2.37zM747.25 373.05h2.37v2.81h-2.37zM747.25 369.34h2.37v2.81h-2.37zM749.03 387.90h2.37v2.81h-2.37zM749.03 380.47h2.37v6.52h-2.37zM750.80 321.08h2.37v2.81h-2.37zM750.80 317.37h2.37v2.81h-2.37zM752.57 347.06h2.37v10.24h-2.37zM752.57 343.35h2.37v2.81h-2.37zM754.35 421.30h2.37v2.81h-2.37z"/>
<path fill="#982b98" d="M254.28 525.24h2.37v2.81h-2.37zM458.21 510.39h2.37v10.24h-2.37zM601.84 521.53h2.37v2.81h-2.37zM616.03 484.41h2.37v2.81h-2.37zM644.40 484.41h2.37v10.24h-2.37zM644.40 473.27h2.37v10.24h-2.37zM653.27 410.17h2.37v10.24h-2.37zM653.27 406.46h2.37v2.81h-2.37zM660.36 425.02h2.37v2.81h-2.37zM660.36 421.30h2.37v2.81h-2.37zM663.91 373.05h2.37v2.81h-2.37zM665.68 365.62h2.37v2.81h-2.37zM667.46 380.47h2.37v10.24h-2.37zM669.23 402.74h2.37v2.81h-2.37zM671.00 358.20h2.37v2.81h-2.37zM678.10 373.05h2.37v13.95h-2.37zM678.10 358.20h2.37v13.95h-2.37zM679.87 380.47h2.37v6.52h-2.37zM679.87 373.05h2.37v6.52h-2.37zM686.96 343.35h2.37v2.81h-2.37zM688.74 335.93h2.37v6.52h-2.37zM688.74 332.22h2.37v2.81h-2.37zM690.51 332.22h2.37v2.81h-2.37zM692.28 347.06h2.37v2.81h-2.37zM694.06 343.35h2.37v2.81h-2.37zM695.83 369.34h2.37v2.81h-2.37zM697.60 410.17h2.37v6.52h-2.37zM697.60 395.32h2.37v13.95h-2.37zM699.38 321.08h2.37v2.81h-2.37zM701.15 243.13h2.37v6.52h-2.37zM701.15 231.99h2.37v10.24h-2.37zM702.92 261.69h2.37v2.81h-2.37zM704.70 321.08h2.37v2.81h-2.37zM706.47 324.79h2.37v2.81h-2.37zM708.24 317.37h2.37v6.52h-2.37zM710.01 191.16h2.37v2.81h-2.37zM711.79 194.87h2.37v2.81h-2.37zM713.56 213.43h2.37v2.81h-2.37zM715.33 161.46h2.37v2.81h-2.37zM715.33 157.75h2.37v2.81h-2.37zM717.11 217.14h2.37v2.81h-2.37zM718.88 172.60h2.37v2.81h-2.37zM718.88 168.89h2.37v2.81h-2.37zM720.65 231.99h2.37v2.81h-2.37zM720.65 228.28h2.37v2.81h-2.37zM724.20 287.67h2.37v13.95h-2.37zM724.20 280.25h2.37v6.52h-2.37zM725.97 261.69h2.37v2.81h-2.37zM727.75 217.14h2.37v2.81h-2.37zM729.52 265.40h2.37v2.81h-2.37zM731.29 191.16h2.37v2.81h-2.37zM733.07 313.66h2.37v2.81h-2.37zM734.84 328.50h2.37v2.81h-2.37zM736.61 228.28h2.37v2.81h-2.37zM738.39 365.62h2.37v2.81h-2.37zM738.39 361.91h2.37v2.81h-2.37zM740.16 317.37h2.37v2.81h-2.37zM740.16 309.94h2.37v6.52h-2.37zM741.93 361.91h2.37v2.81h-2.37zM743.71 387.90h2.37v2.81h-2.37zM745.48 395.32h2.37v2.81h-2.37zM747.25 365.62h2.37v2.81h-2.37zM747.25 361.91h2.37v2.81h-2.37zM749.03 376.76h2.37v2.81h-2.37zM749.03 373.05h2.37v2.81h-2.37zM750.80 313.66h2.37v2.81h-2.37zM752.57 339.64h2.37v2.81h-2.37z"/>
<path fill="#7a2350" d="M646.18 469.56h2.37v2.81h-2.37zM754.35 417.59h2.37v2.81h-2.37z"/>
</g>
</svg>

<div class="yl" style="top:144.5px">104</div>
<div class="yl" style="top:241.3px">78</div>
<div class="yl" style="top:337.8px">52</div>
<div class="yl" style="top:434.5px">26</div>
<div class="yl" style="top:530.8px">0</div>

<div class="xl" style="left:176.2px">3/30</div>
<div class="xl" style="left:353.5px">7/8</div>
<div class="xl" style="left:397.8px">8/2</div>
<div class="xl" style="left:486.5px">9/21</div>
<div class="xl" style="left:530.8px">10/16</div>
<div class="xl" style="left:575.1px">11/10</div>
<div class="xl" style="left:619.5px">12/5</div>
<div class="xl" style="left:663.8px">12/30</div>
<div class="xl" style="left:717.0px">1/29</div>
</body></html>
